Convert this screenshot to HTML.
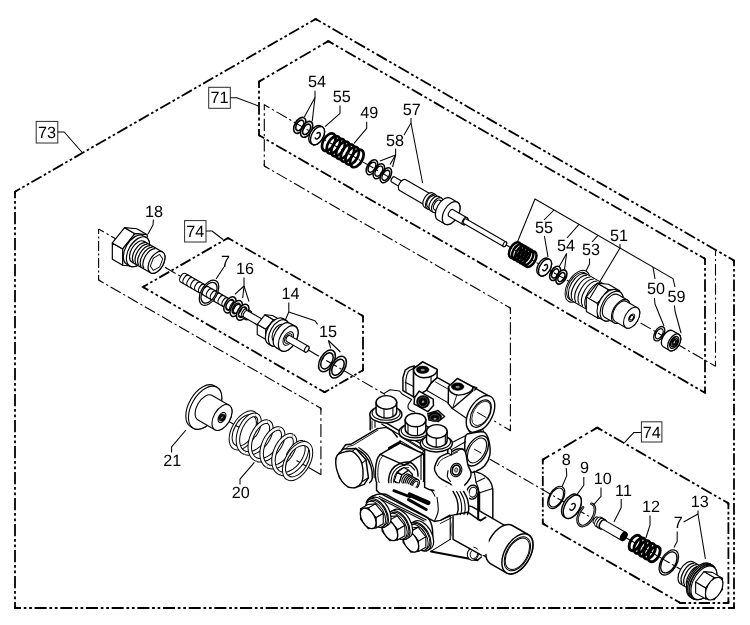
<!DOCTYPE html>
<html><head><meta charset="utf-8"><title>Parts diagram</title>
<style>
html,body{margin:0;padding:0;background:#fff;}
svg{display:block;will-change:transform;}
text{font-family:"Liberation Sans",sans-serif;fill:#000;stroke:none;text-rendering:geometricPrecision;}
</style></head><body>
<svg width="750" height="625" viewBox="0 0 750 625">
<rect width="750" height="625" fill="#fff"/>
<line x1="15" y1="608" x2="15" y2="191.7" stroke="#000" stroke-width="1.8" stroke-dasharray="12.24 2.75 2.75 2.75 2.75 2.75" stroke-dashoffset="6.12"/>
<line x1="15" y1="191.7" x2="315.7" y2="19" stroke="#000" stroke-width="1.8" stroke-dasharray="11.66 2.62 2.62 2.62 2.62 2.62" stroke-dashoffset="5.83"/>
<line x1="315.7" y1="19" x2="734" y2="260.5" stroke="#000" stroke-width="1.8" stroke-dasharray="11.96 2.69 2.69 2.69 2.69 2.69" stroke-dashoffset="5.98"/>
<line x1="734" y1="260.5" x2="734" y2="608" stroke="#000" stroke-width="1.8" stroke-dasharray="11.68 2.63 2.63 2.63 2.63 2.63" stroke-dashoffset="5.84"/>
<line x1="734" y1="608" x2="15" y2="608" stroke="#000" stroke-width="1.8" stroke-dasharray="12.08 2.72 2.72 2.72 2.72 2.72" stroke-dashoffset="6.04"/>
<path d="M17,608 L15,608 L15,606" fill="none" stroke="#000" stroke-width="1.8" stroke-linejoin="miter"/>
<path d="M15,193.7 L15,191.7 L16.73,190.7" fill="none" stroke="#000" stroke-width="1.8" stroke-linejoin="miter"/>
<path d="M313.97,20 L315.7,19 L317.43,20" fill="none" stroke="#000" stroke-width="1.8" stroke-linejoin="miter"/>
<path d="M732.27,259.5 L734,260.5 L734,262.5" fill="none" stroke="#000" stroke-width="1.8" stroke-linejoin="miter"/>
<path d="M734,606 L734,608 L732,608" fill="none" stroke="#000" stroke-width="1.8" stroke-linejoin="miter"/>
<line x1="328.3" y1="41.1" x2="259" y2="81.6" stroke="#000" stroke-width="1.8" stroke-dasharray="12.59 2.83 2.83 2.83 2.83 2.83" stroke-dashoffset="6.3"/>
<line x1="259" y1="81.6" x2="259" y2="135.3" stroke="#000" stroke-width="1.8" stroke-dasharray="12.64 2.84 2.84 2.84 2.84 2.84" stroke-dashoffset="6.32"/>
<line x1="259" y1="135.3" x2="705" y2="392.8" stroke="#000" stroke-width="1.8" stroke-dasharray="12.12 2.73 2.73 2.73 2.73 2.73" stroke-dashoffset="6.06"/>
<line x1="705" y1="392.8" x2="705" y2="258.8" stroke="#000" stroke-width="1.8" stroke-dasharray="12.61 2.84 2.84 2.84 2.84 2.84" stroke-dashoffset="6.31"/>
<line x1="705" y1="258.8" x2="328.3" y2="41.1" stroke="#000" stroke-width="1.8" stroke-dasharray="12.04 2.71 2.71 2.71 2.71 2.71" stroke-dashoffset="6.02"/>
<path d="M330.03,42.1 L328.3,41.1 L326.57,42.11" fill="none" stroke="#000" stroke-width="1.8" stroke-linejoin="miter"/>
<path d="M260.73,80.59 L259,81.6 L259,83.6" fill="none" stroke="#000" stroke-width="1.8" stroke-linejoin="miter"/>
<path d="M259,133.3 L259,135.3 L260.73,136.3" fill="none" stroke="#000" stroke-width="1.8" stroke-linejoin="miter"/>
<path d="M703.27,391.8 L705,392.8 L705,390.8" fill="none" stroke="#000" stroke-width="1.8" stroke-linejoin="miter"/>
<path d="M705,260.8 L705,258.8 L703.27,257.8" fill="none" stroke="#000" stroke-width="1.8" stroke-linejoin="miter"/>
<line x1="228" y1="238" x2="143" y2="287" stroke="#000" stroke-width="1.8" stroke-dasharray="11.54 2.6 2.6 2.6 2.6 2.6" stroke-dashoffset="5.77"/>
<line x1="143" y1="287" x2="324.6" y2="392.3" stroke="#000" stroke-width="1.8" stroke-dasharray="12.35 2.78 2.78 2.78 2.78 2.78" stroke-dashoffset="6.17"/>
<line x1="324.6" y1="392.3" x2="363" y2="370.2" stroke="#000" stroke-width="1.8" stroke-dasharray="10.42 2.35 2.35 2.35 2.35 2.35" stroke-dashoffset="5.21"/>
<line x1="363" y1="370.2" x2="363" y2="316" stroke="#000" stroke-width="1.8" stroke-dasharray="12.75 2.87 2.87 2.87 2.87 2.87" stroke-dashoffset="6.38"/>
<line x1="363" y1="316" x2="228" y2="238" stroke="#000" stroke-width="1.8" stroke-dasharray="12.23 2.75 2.75 2.75 2.75 2.75" stroke-dashoffset="6.11"/>
<path d="M229.73,239 L228,238 L226.27,239" fill="none" stroke="#000" stroke-width="1.8" stroke-linejoin="miter"/>
<path d="M144.73,286 L143,287 L144.73,288" fill="none" stroke="#000" stroke-width="1.8" stroke-linejoin="miter"/>
<path d="M322.87,391.3 L324.6,392.3 L326.33,391.3" fill="none" stroke="#000" stroke-width="1.8" stroke-linejoin="miter"/>
<path d="M361.27,371.2 L363,370.2 L363,368.2" fill="none" stroke="#000" stroke-width="1.8" stroke-linejoin="miter"/>
<path d="M363,318 L363,316 L361.27,315" fill="none" stroke="#000" stroke-width="1.8" stroke-linejoin="miter"/>
<line x1="597.2" y1="427.6" x2="542.8" y2="459.6" stroke="#000" stroke-width="1.8" stroke-dasharray="14.85 3.34 3.34 3.34 3.34 3.34" stroke-dashoffset="7.43"/>
<line x1="542.8" y1="459.6" x2="542.8" y2="523.6" stroke="#000" stroke-width="1.8" stroke-dasharray="10.04 2.26 2.26 2.26 2.26 2.26" stroke-dashoffset="5.02"/>
<line x1="542.8" y1="523.6" x2="680.4" y2="603" stroke="#000" stroke-width="1.8" stroke-dasharray="12.46 2.8 2.8 2.8 2.8 2.8" stroke-dashoffset="6.23"/>
<line x1="680.4" y1="603" x2="728.4" y2="603" stroke="#000" stroke-width="1.8" stroke-dasharray="11.29 2.54 2.54 2.54 2.54 2.54" stroke-dashoffset="5.65"/>
<line x1="728.4" y1="603" x2="728.4" y2="503.3" stroke="#000" stroke-width="1.8" stroke-dasharray="11.73 2.64 2.64 2.64 2.64 2.64" stroke-dashoffset="5.86"/>
<line x1="728.4" y1="503.3" x2="597.2" y2="427.6" stroke="#000" stroke-width="1.8" stroke-dasharray="11.88 2.67 2.67 2.67 2.67 2.67" stroke-dashoffset="5.94"/>
<path d="M598.93,428.6 L597.2,427.6 L595.48,428.61" fill="none" stroke="#000" stroke-width="1.8" stroke-linejoin="miter"/>
<path d="M544.52,458.59 L542.8,459.6 L542.8,461.6" fill="none" stroke="#000" stroke-width="1.8" stroke-linejoin="miter"/>
<path d="M542.8,521.6 L542.8,523.6 L544.53,524.6" fill="none" stroke="#000" stroke-width="1.8" stroke-linejoin="miter"/>
<path d="M678.67,602 L680.4,603 L682.4,603" fill="none" stroke="#000" stroke-width="1.8" stroke-linejoin="miter"/>
<path d="M726.4,603 L728.4,603 L728.4,601" fill="none" stroke="#000" stroke-width="1.8" stroke-linejoin="miter"/>
<path d="M728.4,505.3 L728.4,503.3 L726.67,502.3" fill="none" stroke="#000" stroke-width="1.8" stroke-linejoin="miter"/>
<line x1="490" y1="418.5" x2="510.4" y2="430.6" stroke="#000" stroke-width="1.1" stroke-dasharray="14.02 3.51 2.69 3.51" stroke-dashoffset="7.01"/>
<line x1="510.4" y1="430.6" x2="510.4" y2="308" stroke="#000" stroke-width="1.1" stroke-dasharray="12.08 3.02 2.32 3.02" stroke-dashoffset="6.04"/>
<line x1="510.4" y1="308" x2="264.3" y2="166" stroke="#000" stroke-width="1.1" stroke-dasharray="12 3 2.3 3" stroke-dashoffset="6"/>
<line x1="264.3" y1="166" x2="264.3" y2="104.2" stroke="#000" stroke-width="1.1" stroke-dasharray="12.18 3.04 2.33 3.04" stroke-dashoffset="6.09"/>
<path d="M508.68,429.58 L510.4,430.6 L510.4,428.6" fill="none" stroke="#000" stroke-width="1.1" stroke-linejoin="miter"/>
<path d="M510.4,310 L510.4,308 L508.67,307" fill="none" stroke="#000" stroke-width="1.1" stroke-linejoin="miter"/>
<path d="M266.03,167 L264.3,166 L264.3,164" fill="none" stroke="#000" stroke-width="1.1" stroke-linejoin="miter"/>
<line x1="715.5" y1="366.4" x2="715.5" y2="250.4" stroke="#000" stroke-width="1.1" stroke-dasharray="11.43 2.86 2.19 2.86" stroke-dashoffset="5.71"/>
<line x1="98.6" y1="229" x2="98.6" y2="280" stroke="#000" stroke-width="1.1" stroke-dasharray="10.05 2.51 1.93 2.51" stroke-dashoffset="5.02"/>
<line x1="98.6" y1="280" x2="320.9" y2="408.3" stroke="#000" stroke-width="1.1" stroke-dasharray="11.67 2.92 2.24 2.92" stroke-dashoffset="5.84"/>
<line x1="320.9" y1="408.3" x2="320.9" y2="475" stroke="#000" stroke-width="1.1" stroke-dasharray="13.14 3.29 2.52 3.29" stroke-dashoffset="6.57"/>
<path d="M98.6,278 L98.6,280 L100.33,281" fill="none" stroke="#000" stroke-width="1.1" stroke-linejoin="miter"/>
<path d="M319.17,407.3 L320.9,408.3 L320.9,410.3" fill="none" stroke="#000" stroke-width="1.1" stroke-linejoin="miter"/>
<g transform="translate(264.3,104.8) rotate(30.1)" stroke="#000" stroke-width="1" fill="#fff" stroke-linejoin="round">
<line x1="0" y1="0" x2="521" y2="0" stroke-width="1.1" stroke-dasharray="11.85 2.96 2.27 2.96" stroke-dashoffset="5.92"/>
<path d="M35.98,0 A5.02,8.7 0 1 0 46.02,0 A5.02,8.7 0 1 0 35.98,0 Z M37.71,0 A3.29,5.7 0 1 0 44.29,0 A3.29,5.7 0 1 0 37.71,0 Z" fill-rule="evenodd" fill="#fff" stroke-width="1.6"/>
<path d="M43.88,0 A5.02,8.7 0 1 0 53.92,0 A5.02,8.7 0 1 0 43.88,0 Z M45.61,0 A3.29,5.7 0 1 0 52.19,0 A3.29,5.7 0 1 0 45.61,0 Z" fill-rule="evenodd" fill="#fff" stroke-width="1.6"/>
<path d="M59.5,-10 A5.77,10 0 0 0 59.5,10 L61.5,10 A5.77,10 0 0 0 61.5,-10 Z" stroke-width="1.4" fill="#fff"/>
<ellipse cx="61.5" cy="0" rx="5.77" ry="10" stroke-width="1.4" fill="#fff"/>
<path d="M59.9,-1.8 A2.08,3.6 0 1 1 60.66,3.12" fill="none" stroke="#000" stroke-width="1.5" stroke-linecap="round"/>
<path d="M59.9,-1.8 A2.08,3.6 0 1 1 60.66,3.12" fill="none" stroke="#fff" stroke-width="0" stroke-linecap="round"/>
<ellipse cx="74.5" cy="0" rx="5.54" ry="9.6" stroke-width="2.7" fill="none"/>
<ellipse cx="79.92" cy="0" rx="5.54" ry="9.6" stroke-width="2.7" fill="none"/>
<ellipse cx="85.33" cy="0" rx="5.54" ry="9.6" stroke-width="2.7" fill="none"/>
<ellipse cx="90.75" cy="0" rx="5.54" ry="9.6" stroke-width="2.7" fill="none"/>
<ellipse cx="96.17" cy="0" rx="5.54" ry="9.6" stroke-width="2.7" fill="none"/>
<ellipse cx="101.58" cy="0" rx="5.54" ry="9.6" stroke-width="2.7" fill="none"/>
<ellipse cx="107" cy="0" rx="5.54" ry="9.6" stroke-width="2.7" fill="none"/>
<path d="M119.67,0 A4.73,8.2 0 1 0 129.13,0 A4.73,8.2 0 1 0 119.67,0 Z M121.23,0 A3.17,5.5 0 1 0 127.57,0 A3.17,5.5 0 1 0 121.23,0 Z" fill-rule="evenodd" fill="#fff" stroke-width="1.5"/>
<path d="M127.67,0 A4.73,8.2 0 1 0 137.13,0 A4.73,8.2 0 1 0 127.67,0 Z M129.23,0 A3.17,5.5 0 1 0 135.57,0 A3.17,5.5 0 1 0 129.23,0 Z" fill-rule="evenodd" fill="#fff" stroke-width="1.5"/>
<path d="M135.77,0 A4.73,8.2 0 1 0 145.23,0 A4.73,8.2 0 1 0 135.77,0 Z M137.33,0 A3.17,5.5 0 1 0 143.67,0 A3.17,5.5 0 1 0 137.33,0 Z" fill-rule="evenodd" fill="#fff" stroke-width="1.5"/>
<path d="M149,-3 A1.73,3 0 0 0 149,3 L160,3 A1.73,3 0 0 0 160,-3 Z" stroke-width="1.15" fill="#fff"/>
<ellipse cx="160" cy="0" rx="1.73" ry="3" stroke-width="1.15" fill="#fff"/>
<path d="M160,-6.2 A3.58,6.2 0 0 0 160,6.2 L190,6.2 A3.58,6.2 0 0 0 190,-6.2 Z" stroke-width="1.15" fill="#fff"/>
<ellipse cx="190" cy="0" rx="3.58" ry="6.2" stroke-width="1.15" fill="#fff"/>
<path d="M190,-8.2 A4.73,8.2 0 0 0 190,8.2 L193,8.2 A4.73,8.2 0 0 0 193,-8.2 Z" stroke-width="1.15" fill="#fff"/>
<ellipse cx="193" cy="0" rx="4.73" ry="8.2" stroke-width="1.15" fill="#fff"/>
<path d="M193,-6.5 A3.75,6.5 0 0 0 193,6.5 L197,6.5 A3.75,6.5 0 0 0 197,-6.5 Z" stroke-width="1.15" fill="#fff"/>
<ellipse cx="197" cy="0" rx="3.75" ry="6.5" stroke-width="1.15" fill="#fff"/>
<path d="M197,-8.2 A4.73,8.2 0 0 0 197,8.2 L200,8.2 A4.73,8.2 0 0 0 200,-8.2 Z" stroke-width="1.15" fill="#fff"/>
<ellipse cx="200" cy="0" rx="4.73" ry="8.2" stroke-width="1.15" fill="#fff"/>
<path d="M200,-5.5 A3.17,5.5 0 0 0 200,5.5 L208,5.5 A3.17,5.5 0 0 0 208,-5.5 Z" stroke-width="1.15" fill="#fff"/>
<ellipse cx="208" cy="0" rx="3.17" ry="5.5" stroke-width="1.15" fill="#fff"/>
<path d="M208,-12.6 A7.27,12.6 0 0 0 208,12.6 L216,12.6 A7.27,12.6 0 0 0 216,-12.6 Z" stroke-width="1.2" fill="#fff"/>
<ellipse cx="216" cy="0" rx="7.27" ry="12.6" stroke-width="1.2" fill="#fff"/>
<path d="M216,-4 A2.31,4 0 0 0 216,4 L232,4 A2.31,4 0 0 0 232,-4 Z" stroke-width="1.15" fill="#fff"/>
<ellipse cx="232" cy="0" rx="2.31" ry="4" stroke-width="1.15" fill="#fff"/>
<path d="M232,-2.6 A1.5,2.6 0 0 0 232,2.6 L278,2.6 A1.5,2.6 0 0 0 278,-2.6 Z" stroke-width="1.1" fill="#fff"/>
<ellipse cx="278" cy="0" rx="1.5" ry="2.6" stroke-width="1.1" fill="#fff"/>
<ellipse cx="289.8" cy="0" rx="4.96" ry="8.6" stroke-width="2.5" fill="none"/>
<ellipse cx="293.36" cy="0" rx="4.96" ry="8.6" stroke-width="2.5" fill="none"/>
<ellipse cx="296.92" cy="0" rx="4.96" ry="8.6" stroke-width="2.5" fill="none"/>
<ellipse cx="300.48" cy="0" rx="4.96" ry="8.6" stroke-width="2.5" fill="none"/>
<ellipse cx="304.04" cy="0" rx="4.96" ry="8.6" stroke-width="2.5" fill="none"/>
<ellipse cx="307.6" cy="0" rx="4.96" ry="8.6" stroke-width="2.5" fill="none"/>
<path d="M322.5,-9.3 A5.37,9.3 0 0 0 322.5,9.3 L324.5,9.3 A5.37,9.3 0 0 0 324.5,-9.3 Z" stroke-width="1.4" fill="#fff"/>
<ellipse cx="324.5" cy="0" rx="5.37" ry="9.3" stroke-width="1.4" fill="#fff"/>
<path d="M323,-1.7 A1.96,3.4 0 1 1 323.72,2.94" fill="none" stroke="#000" stroke-width="1.5" stroke-linecap="round"/>
<path d="M323,-1.7 A1.96,3.4 0 1 1 323.72,2.94" fill="none" stroke="#fff" stroke-width="0" stroke-linecap="round"/>
<path d="M331.7,0 A4.5,7.8 0 1 0 340.7,0 A4.5,7.8 0 1 0 331.7,0 Z M333.31,0 A2.88,5 0 1 0 339.08,0 A2.88,5 0 1 0 333.31,0 Z" fill-rule="evenodd" fill="#fff" stroke-width="1.6"/>
<path d="M338.9,0 A4.5,7.8 0 1 0 347.9,0 A4.5,7.8 0 1 0 338.9,0 Z M340.51,0 A2.88,5 0 1 0 346.28,0 A2.88,5 0 1 0 340.51,0 Z" fill-rule="evenodd" fill="#fff" stroke-width="1.6"/>
<path d="M351.9,0 A10.1,17.5 0 1 0 372.1,0 A10.1,17.5 0 1 0 351.9,0 Z M353.17,0 A8.83,15.3 0 1 0 370.83,0 A8.83,15.3 0 1 0 353.17,0 Z" fill-rule="evenodd" fill="#fff" stroke-width="1.0"/>
<path d="M364,-15.3 A8.83,15.3 0 0 0 364,15.3 L386,15.3 A8.83,15.3 0 0 0 386,-15.3 Z" stroke-width="1.1" fill="#fff"/>
<ellipse cx="386" cy="0" rx="8.83" ry="15.3" stroke-width="1.1" fill="#fff"/>
<path d="M364.69,-14.54 A8.83,15.3 0 0 0 364.69,14.54" fill="none" stroke-width="1.1"/>
<path d="M368.59,-14.54 A8.83,15.3 0 0 0 368.59,14.54" fill="none" stroke-width="1.1"/>
<path d="M372.49,-14.54 A8.83,15.3 0 0 0 372.49,14.54" fill="none" stroke-width="1.1"/>
<path d="M376.39,-14.54 A8.83,15.3 0 0 0 376.39,14.54" fill="none" stroke-width="1.1"/>
<path d="M380.29,-14.54 A8.83,15.3 0 0 0 380.29,14.54" fill="none" stroke-width="1.1"/>
<polygon points="382.31,17.39 374.97,4.66 387.97,4.66 395.31,17.39" stroke-width="1.1"/>
<polygon points="374.97,4.66 377.66,-12.73 390.66,-12.73 387.97,4.66" stroke-width="1.1"/>
<polygon points="377.66,-12.73 387.69,-17.39 400.69,-17.39 390.66,-12.73" stroke-width="1.1"/>
<polygon points="405.34,12.73 395.31,17.39 387.97,4.66 390.66,-12.73 400.69,-17.39 408.03,-4.66" stroke-width="1.1"/>
<path d="M398,-16.4 A9.46,16.4 0 0 0 398,16.4 L401.5,16.4 A9.46,16.4 0 0 0 401.5,-16.4 Z" stroke-width="1.1" fill="#fff"/>
<ellipse cx="401.5" cy="0" rx="9.46" ry="16.4" stroke-width="1.1" fill="#fff"/>
<path d="M401.5,-13.2 A7.62,13.2 0 0 0 401.5,13.2 L412,13.2 A7.62,13.2 0 0 0 412,-13.2 Z" stroke-width="1.1" fill="#fff"/>
<ellipse cx="412" cy="0" rx="7.62" ry="13.2" stroke-width="1.1" fill="#fff"/>
<path d="M412,-11.5 A6.64,11.5 0 0 0 412,11.5 L424.6,11.5 A6.64,11.5 0 0 0 424.6,-11.5 Z" stroke-width="1.1" fill="#fff"/>
<ellipse cx="424.6" cy="0" rx="6.64" ry="11.5" stroke-width="1.1" fill="#fff"/>
<path d="M422.18,0 A2.42,4.2 0 1 0 427.02,0 A2.42,4.2 0 1 0 422.18,0 Z M423.1,0 A1.5,2.6 0 1 0 426.1,0 A1.5,2.6 0 1 0 423.1,0 Z" fill-rule="evenodd" fill="#fff" stroke-width="1.0"/>
<path d="M451.94,0 A4.56,7.9 0 1 0 461.06,0 A4.56,7.9 0 1 0 451.94,0 Z M453.33,0 A3.17,5.5 0 1 0 459.67,0 A3.17,5.5 0 1 0 453.33,0 Z" fill-rule="evenodd" fill="#fff" stroke-width="1.3"/>
<path d="M466.5,-9.3 A5.37,9.3 0 0 0 466.5,9.3 L473.8,9.3 A5.37,9.3 0 0 0 473.8,-9.3 Z" stroke-width="1.3" fill="#fff"/>
<ellipse cx="473.8" cy="0" rx="5.37" ry="9.3" stroke-width="1.3" fill="#fff"/>
<path d="M469.99,0 A3.81,6.6 0 1 0 477.61,0 A3.81,6.6 0 1 0 469.99,0 Z M471.03,0 A2.77,4.8 0 1 0 476.57,0 A2.77,4.8 0 1 0 471.03,0 Z" fill-rule="evenodd" fill="#fff" stroke-width="1.2"/>
<path d="M471.95,0 A1.85,3.2 0 1 0 475.65,0 A1.85,3.2 0 1 0 471.95,0 Z M472.7,0 A1.1,1.9 0 1 0 474.9,0 A1.1,1.9 0 1 0 472.7,0 Z" fill-rule="evenodd" fill="#fff" stroke-width="1.2"/>
</g>
<g transform="translate(98.6,229) rotate(30)" stroke="#000" stroke-width="1" fill="#fff" stroke-linejoin="round">
<line x1="0" y1="0" x2="331" y2="0" stroke-width="1.1" stroke-dasharray="12.23 3.06 2.34 3.06" stroke-dashoffset="6.11"/>
<polygon points="27.01,19.32 18.85,5.18 30.85,5.18 39.01,19.32" stroke-width="1.2"/>
<polygon points="18.85,5.18 21.84,-14.14 33.84,-14.14 30.85,5.18" stroke-width="1.2"/>
<polygon points="21.84,-14.14 32.99,-19.32 44.99,-19.32 33.84,-14.14" stroke-width="1.2"/>
<polygon points="50.16,14.14 39.01,19.32 30.85,5.18 33.84,-14.14 44.99,-19.32 53.15,-5.18" stroke-width="1.2"/>
<path d="M42,-16.4 A9.46,16.4 0 0 0 42,16.4 L45.5,16.4 A9.46,16.4 0 0 0 45.5,-16.4 Z" stroke-width="1.2" fill="#fff"/>
<ellipse cx="45.5" cy="0" rx="9.46" ry="16.4" stroke-width="1.2" fill="#fff"/>
<path d="M45.5,-12 A6.92,12 0 0 0 45.5,12 L66.9,12 A6.92,12 0 0 0 66.9,-12 Z" stroke-width="1.2" fill="#fff"/>
<ellipse cx="66.9" cy="0" rx="6.92" ry="12" stroke-width="1.2" fill="#fff"/>
<path d="M46.84,-11.4 A6.92,12 0 0 0 46.84,11.4" fill="none" stroke-width="1.2"/>
<path d="M49.84,-11.4 A6.92,12 0 0 0 49.84,11.4" fill="none" stroke-width="1.2"/>
<path d="M52.84,-11.4 A6.92,12 0 0 0 52.84,11.4" fill="none" stroke-width="1.2"/>
<path d="M55.84,-11.4 A6.92,12 0 0 0 55.84,11.4" fill="none" stroke-width="1.2"/>
<path d="M58.84,-11.4 A6.92,12 0 0 0 58.84,11.4" fill="none" stroke-width="1.2"/>
<polygon points="71.8,2.28 68.21,8.5 63.31,6.22 62,-2.28 65.59,-8.5 70.49,-6.22" stroke-width="0.9"/>
<path d="M97.5,-4.8 A2.77,4.8 0 0 0 97.5,4.8 L172.5,4.8 A2.77,4.8 0 0 0 172.5,-4.8 Z" stroke-width="1.1" fill="#fff"/>
<ellipse cx="172.5" cy="0" rx="2.77" ry="4.8" stroke-width="1.1" fill="#fff"/>
<path d="M101.25,-4.8 A2.77,4.8 0 0 0 101.25,4.8" fill="none" stroke-width="1.1"/>
<path d="M105.75,-4.8 A2.77,4.8 0 0 0 105.75,4.8" fill="none" stroke-width="1.1"/>
<path d="M110.25,-4.8 A2.77,4.8 0 0 0 110.25,4.8" fill="none" stroke-width="1.1"/>
<path d="M114.75,-4.8 A2.77,4.8 0 0 0 114.75,4.8" fill="none" stroke-width="1.1"/>
<path d="M119.25,-4.8 A2.77,4.8 0 0 0 119.25,4.8" fill="none" stroke-width="1.1"/>
<path d="M123.75,-4.8 A2.77,4.8 0 0 0 123.75,4.8" fill="none" stroke-width="1.1"/>
<path d="M128.25,-4.8 A2.77,4.8 0 0 0 128.25,4.8" fill="none" stroke-width="1.1"/>
<path d="M132.75,-4.8 A2.77,4.8 0 0 0 132.75,4.8" fill="none" stroke-width="1.1"/>
<path d="M137.25,-4.8 A2.77,4.8 0 0 0 137.25,4.8" fill="none" stroke-width="1.1"/>
<path d="M141.75,-4.8 A2.77,4.8 0 0 0 141.75,4.8" fill="none" stroke-width="1.1"/>
<path d="M146.25,-4.8 A2.77,4.8 0 0 0 146.25,4.8" fill="none" stroke-width="1.1"/>
<path d="M150.75,-4.8 A2.77,4.8 0 0 0 150.75,4.8" fill="none" stroke-width="1.1"/>
<path d="M155.25,-4.8 A2.77,4.8 0 0 0 155.25,4.8" fill="none" stroke-width="1.1"/>
<path d="M159.75,-4.8 A2.77,4.8 0 0 0 159.75,4.8" fill="none" stroke-width="1.1"/>
<path d="M164.25,-4.8 A2.77,4.8 0 0 0 164.25,4.8" fill="none" stroke-width="1.1"/>
<path d="M168.75,-4.8 A2.77,4.8 0 0 0 168.75,4.8" fill="none" stroke-width="1.1"/>
<path d="M119.54,0 A7.96,13.8 0 1 0 135.46,0 A7.96,13.8 0 1 0 119.54,0 Z M120.92,0 A6.58,11.4 0 1 0 134.08,0 A6.58,11.4 0 1 0 120.92,0 Z" fill-rule="evenodd" fill="#fff" stroke-width="1.2"/>
<path d="M146.62,0 A5.08,8.8 0 1 0 156.78,0 A5.08,8.8 0 1 0 146.62,0 Z M148.35,0 A3.35,5.8 0 1 0 155.05,0 A3.35,5.8 0 1 0 148.35,0 Z" fill-rule="evenodd" fill="#fff" stroke-width="1.5"/>
<path d="M153.82,0 A5.08,8.8 0 1 0 163.98,0 A5.08,8.8 0 1 0 153.82,0 Z M155.55,0 A3.35,5.8 0 1 0 162.25,0 A3.35,5.8 0 1 0 155.55,0 Z" fill-rule="evenodd" fill="#fff" stroke-width="1.5"/>
<path d="M161.32,0 A5.08,8.8 0 1 0 171.48,0 A5.08,8.8 0 1 0 161.32,0 Z M163.05,0 A3.35,5.8 0 1 0 169.75,0 A3.35,5.8 0 1 0 163.05,0 Z" fill-rule="evenodd" fill="#fff" stroke-width="1.5"/>
<path d="M170,-3.7 A2.13,3.7 0 0 0 170,3.7 L194,3.7 A2.13,3.7 0 0 0 194,-3.7 Z" stroke-width="1.1" fill="#fff"/>
<ellipse cx="194" cy="0" rx="2.13" ry="3.7" stroke-width="1.1" fill="#fff"/>
<polygon points="190.13,12.07 185.03,3.24 195.03,3.24 200.13,12.07" stroke-width="1.1"/>
<polygon points="185.03,3.24 186.9,-8.84 196.9,-8.84 195.03,3.24" stroke-width="1.1"/>
<polygon points="186.9,-8.84 193.87,-12.07 203.87,-12.07 196.9,-8.84" stroke-width="1.1"/>
<polygon points="207.1,8.84 200.13,12.07 195.03,3.24 196.9,-8.84 203.87,-12.07 208.97,-3.24" stroke-width="1.1"/>
<path d="M202,-10 A5.77,10 0 0 0 202,10 L204.5,10 A5.77,10 0 0 0 204.5,-10 Z" stroke-width="1.1" fill="#fff"/>
<ellipse cx="204.5" cy="0" rx="5.77" ry="10" stroke-width="1.1" fill="#fff"/>
<path d="M204.5,-14.6 A8.42,14.6 0 0 0 204.5,14.6 L208,14.6 A8.42,14.6 0 0 0 208,-14.6 Z" stroke-width="1.2" fill="#fff"/>
<ellipse cx="208" cy="0" rx="8.42" ry="14.6" stroke-width="1.2" fill="#fff"/>
<path d="M208,-9.5 A5.48,9.5 0 0 0 208,9.5 L213,9.5 A5.48,9.5 0 0 0 213,-9.5 Z" stroke-width="1.1" fill="#fff"/>
<ellipse cx="213" cy="0" rx="5.48" ry="9.5" stroke-width="1.1" fill="#fff"/>
<path d="M213,-14 A8.08,14 0 0 0 213,14 L219,14 A8.08,14 0 0 0 219,-14 Z" stroke-width="1.2" fill="#fff"/>
<ellipse cx="219" cy="0" rx="8.08" ry="14" stroke-width="1.2" fill="#fff"/>
<path d="M214.67,0 A4.33,7.5 0 1 0 223.33,0 A4.33,7.5 0 1 0 214.67,0 Z M215.94,0 A3.06,5.3 0 1 0 222.06,0 A3.06,5.3 0 1 0 215.94,0 Z" fill-rule="evenodd" fill="#fff" stroke-width="1.0"/>
<path d="M219,-3.3 A1.9,3.3 0 0 0 219,3.3 L240.3,3.3 A1.9,3.3 0 0 0 240.3,-3.3 Z" stroke-width="1.1" fill="#fff"/>
<ellipse cx="240.3" cy="0" rx="1.9" ry="3.3" stroke-width="1.1" fill="#fff"/>
<path d="M256.83,0 A6.87,11.9 0 1 0 270.57,0 A6.87,11.9 0 1 0 256.83,0 Z M258.62,0 A5.08,8.8 0 1 0 268.78,0 A5.08,8.8 0 1 0 258.62,0 Z" fill-rule="evenodd" fill="#fff" stroke-width="1.5"/>
<path d="M269.53,0 A6.87,11.9 0 1 0 283.27,0 A6.87,11.9 0 1 0 269.53,0 Z M271.32,0 A5.08,8.8 0 1 0 281.48,0 A5.08,8.8 0 1 0 271.32,0 Z" fill-rule="evenodd" fill="#fff" stroke-width="1.5"/>
</g>
<g transform="translate(222,417.5) rotate(30)" stroke="#000" stroke-width="1" fill="#fff" stroke-linejoin="round">
<line x1="0" y1="0" x2="22" y2="0" stroke-width="1.0"/>
<line x1="86" y1="0" x2="114" y2="0" stroke-width="1.0"/>
<path d="M-22.5,-23.6 A13.62,23.6 0 0 0 -22.5,23.6 L-19.5,23.6 A13.62,23.6 0 0 0 -19.5,-23.6 Z" stroke-width="1.1" fill="#fff"/>
<ellipse cx="-19.5" cy="0" rx="13.62" ry="23.6" stroke-width="1.1" fill="#fff"/>
<path d="M-19.5,-14.2 A8.19,14.2 0 0 0 -19.5,14.2 L0,14.2 A8.19,14.2 0 0 0 0,-14.2 Z" stroke-width="1.1" fill="#fff"/>
<ellipse cx="0" cy="0" rx="8.19" ry="14.2" stroke-width="1.1" fill="#fff"/>
<path d="M-3.23,0 A3.23,5.6 0 1 0 3.23,0 A3.23,5.6 0 1 0 -3.23,0 Z M-2.08,0 A2.08,3.6 0 1 0 2.08,0 A2.08,3.6 0 1 0 -2.08,0 Z" fill-rule="evenodd" fill="#fff" stroke-width="1.1"/>
<path d="M-1.62,0 A1.62,2.8 0 1 0 1.62,0 A1.62,2.8 0 1 0 -1.62,0 Z M-0.92,0 A0.92,1.6 0 1 0 0.92,0 A0.92,1.6 0 1 0 -0.92,0 Z" fill-rule="evenodd" fill="#fff" stroke-width="0.9"/>
<path d="M13.35,0 A12.35,21.4 0 1 0 38.05,0 A12.35,21.4 0 1 0 13.35,0 Z M15.78,0 A9.92,17.2 0 1 0 35.62,0 A9.92,17.2 0 1 0 15.78,0 Z" fill-rule="evenodd" fill="#fff" stroke-width="1.0"/>
<path d="M36.84,0 L37.03,-2.52 L37.03,-5 L36.84,-7.39 L36.48,-9.65 L35.96,-11.75 L35.29,-13.65 L34.48,-15.31 L33.55,-16.71 L32.53,-17.83 L31.43,-18.64 L30.29,-19.13 L29.12,-19.3 L27.95,-19.13" fill="none" stroke="#000" stroke-width="4.5" stroke-linecap="butt" stroke-linejoin="round"/>
<path d="M36.84,0 L37.03,-2.52 L37.03,-5 L36.84,-7.39 L36.48,-9.65 L35.96,-11.75 L35.29,-13.65 L34.48,-15.31 L33.55,-16.71 L32.53,-17.83 L31.43,-18.64 L30.29,-19.13 L29.12,-19.3 L27.95,-19.13" fill="none" stroke="#fff" stroke-width="2.5" stroke-linecap="butt" stroke-linejoin="round"/>
<path d="M37.71,19.13 L39.42,18.64 L41.08,17.83 L42.68,16.71 L44.17,15.31 L45.55,13.65 L46.8,11.75 L47.89,9.65 L48.82,7.39 L49.58,5 L50.14,2.52 L50.52,0 L50.71,-2.52 L50.72,-5 L50.53,-7.39 L50.17,-9.65 L49.65,-11.75 L48.97,-13.65 L48.16,-15.31 L47.24,-16.71 L46.22,-17.83 L45.12,-18.64 L43.98,-19.13 L42.81,-19.3 L41.64,-19.13" fill="none" stroke="#000" stroke-width="4.5" stroke-linecap="butt" stroke-linejoin="round"/>
<path d="M37.71,19.13 L39.42,18.64 L41.08,17.83 L42.68,16.71 L44.17,15.31 L45.55,13.65 L46.8,11.75 L47.89,9.65 L48.82,7.39 L49.58,5 L50.14,2.52 L50.52,0 L50.71,-2.52 L50.72,-5 L50.53,-7.39 L50.17,-9.65 L49.65,-11.75 L48.97,-13.65 L48.16,-15.31 L47.24,-16.71 L46.22,-17.83 L45.12,-18.64 L43.98,-19.13 L42.81,-19.3 L41.64,-19.13" fill="none" stroke="#fff" stroke-width="2.5" stroke-linecap="butt" stroke-linejoin="round"/>
<path d="M51.39,19.13 L53.11,18.64 L54.77,17.83 L56.36,16.71 L57.86,15.31 L59.24,13.65 L60.49,11.75 L61.58,9.65 L62.51,7.39 L63.26,5 L63.83,2.52 L64.21,0 L64.4,-2.52 L64.4,-5 L64.22,-7.39 L63.86,-9.65 L63.34,-11.75 L62.66,-13.65 L61.85,-15.31 L60.93,-16.71 L59.91,-17.83 L58.81,-18.64 L57.67,-19.13 L56.5,-19.3 L55.33,-19.13" fill="none" stroke="#000" stroke-width="4.5" stroke-linecap="butt" stroke-linejoin="round"/>
<path d="M51.39,19.13 L53.11,18.64 L54.77,17.83 L56.36,16.71 L57.86,15.31 L59.24,13.65 L60.49,11.75 L61.58,9.65 L62.51,7.39 L63.26,5 L63.83,2.52 L64.21,0 L64.4,-2.52 L64.4,-5 L64.22,-7.39 L63.86,-9.65 L63.34,-11.75 L62.66,-13.65 L61.85,-15.31 L60.93,-16.71 L59.91,-17.83 L58.81,-18.64 L57.67,-19.13 L56.5,-19.3 L55.33,-19.13" fill="none" stroke="#fff" stroke-width="2.5" stroke-linecap="butt" stroke-linejoin="round"/>
<path d="M63.34,19.3 L65.08,19.13 L66.8,18.64 L68.46,17.83 L70.05,16.71 L71.55,15.31 L72.93,13.65 L74.18,11.75 L75.27,9.65 L76.2,7.39 L76.95,5 L77.52,2.52 L77.9,0 L78.09,-2.52 L78.09,-5 L77.91,-7.39 L77.55,-9.65 L77.03,-11.75 L76.35,-13.65 L75.54,-15.31 L74.62,-16.71 L73.59,-17.83 L72.5,-18.64 L71.36,-19.13 L70.19,-19.3" fill="none" stroke="#000" stroke-width="4.5" stroke-linecap="butt" stroke-linejoin="round"/>
<path d="M63.34,19.3 L65.08,19.13 L66.8,18.64 L68.46,17.83 L70.05,16.71 L71.55,15.31 L72.93,13.65 L74.18,11.75 L75.27,9.65 L76.2,7.39 L76.95,5 L77.52,2.52 L77.9,0 L78.09,-2.52 L78.09,-5 L77.91,-7.39 L77.55,-9.65 L77.03,-11.75 L76.35,-13.65 L75.54,-15.31 L74.62,-16.71 L73.59,-17.83 L72.5,-18.64 L71.36,-19.13 L70.19,-19.3" fill="none" stroke="#fff" stroke-width="2.5" stroke-linecap="butt" stroke-linejoin="round"/>
<path d="M78.77,19.13 L80.49,18.64 L82.15,17.83 L83.74,16.71 L85.24,15.31 L86.62,13.65 L87.86,11.75 L88.96,9.65 L89.89,7.39 L90.64,5 L91.21,2.52 L91.59,0 L91.78,-2.52 L91.78,-5 L91.6,-7.39 L91.24,-9.65 L90.72,-11.75 L90.04,-13.65 L89.23,-15.31 L88.31,-16.71 L87.28,-17.83 L86.19,-18.64 L85.05,-19.13 L83.88,-19.3 L82.71,-19.13" fill="none" stroke="#000" stroke-width="4.5" stroke-linecap="butt" stroke-linejoin="round"/>
<path d="M78.77,19.13 L80.49,18.64 L82.15,17.83 L83.74,16.71 L85.24,15.31 L86.62,13.65 L87.86,11.75 L88.96,9.65 L89.89,7.39 L90.64,5 L91.21,2.52 L91.59,0 L91.78,-2.52 L91.78,-5 L91.6,-7.39 L91.24,-9.65 L90.72,-11.75 L90.04,-13.65 L89.23,-15.31 L88.31,-16.71 L87.28,-17.83 L86.19,-18.64 L85.05,-19.13 L83.88,-19.3 L82.71,-19.13" fill="none" stroke="#fff" stroke-width="2.5" stroke-linecap="butt" stroke-linejoin="round"/>
<path d="M27.95,-19.13 L26.81,-18.64 L25.72,-17.83 L24.69,-16.71 L23.77,-15.31 L22.96,-13.65 L22.28,-11.75 L21.76,-9.65 L21.4,-7.39 L21.22,-5 L21.22,-2.52 L21.41,-0 L21.79,2.52 L22.36,5 L23.11,7.39 L24.04,9.65 L25.14,11.75 L26.38,13.65 L27.76,15.31 L29.26,16.71 L30.85,17.83 L32.51,18.64 L34.23,19.13 L35.97,19.3 L37.71,19.13" fill="none" stroke="#000" stroke-width="4.5" stroke-linecap="butt" stroke-linejoin="round"/>
<path d="M27.95,-19.13 L26.81,-18.64 L25.72,-17.83 L24.69,-16.71 L23.77,-15.31 L22.96,-13.65 L22.28,-11.75 L21.76,-9.65 L21.4,-7.39 L21.22,-5 L21.22,-2.52 L21.41,-0 L21.79,2.52 L22.36,5 L23.11,7.39 L24.04,9.65 L25.14,11.75 L26.38,13.65 L27.76,15.31 L29.26,16.71 L30.85,17.83 L32.51,18.64 L34.23,19.13 L35.97,19.3 L37.71,19.13" fill="none" stroke="#fff" stroke-width="2.5" stroke-linecap="butt" stroke-linejoin="round"/>
<path d="M41.64,-19.13 L40.5,-18.64 L39.41,-17.83 L38.38,-16.71 L37.46,-15.31 L36.65,-13.65 L35.97,-11.75 L35.45,-9.65 L35.09,-7.39 L34.91,-5 L34.91,-2.52 L35.1,-0 L35.48,2.52 L36.05,5 L36.8,7.39 L37.73,9.65 L38.82,11.75 L40.07,13.65 L41.45,15.31 L42.95,16.71 L44.54,17.83 L46.2,18.64 L47.92,19.13 L49.66,19.3 L51.39,19.13" fill="none" stroke="#000" stroke-width="4.5" stroke-linecap="butt" stroke-linejoin="round"/>
<path d="M41.64,-19.13 L40.5,-18.64 L39.41,-17.83 L38.38,-16.71 L37.46,-15.31 L36.65,-13.65 L35.97,-11.75 L35.45,-9.65 L35.09,-7.39 L34.91,-5 L34.91,-2.52 L35.1,-0 L35.48,2.52 L36.05,5 L36.8,7.39 L37.73,9.65 L38.82,11.75 L40.07,13.65 L41.45,15.31 L42.95,16.71 L44.54,17.83 L46.2,18.64 L47.92,19.13 L49.66,19.3 L51.39,19.13" fill="none" stroke="#fff" stroke-width="2.5" stroke-linecap="butt" stroke-linejoin="round"/>
<path d="M55.33,-19.13 L54.19,-18.64 L53.09,-17.83 L52.07,-16.71 L51.15,-15.31 L50.34,-13.65 L49.66,-11.75 L49.14,-9.65 L48.78,-7.39 L48.6,-5 L48.6,-2.52 L48.79,-0 L49.17,2.52 L49.74,5 L50.49,7.39 L51.42,9.65 L52.51,11.75 L53.76,13.65 L55.14,15.31 L56.64,16.71 L58.23,17.83 L59.89,18.64 L61.61,19.13 L63.34,19.3" fill="none" stroke="#000" stroke-width="4.5" stroke-linecap="butt" stroke-linejoin="round"/>
<path d="M55.33,-19.13 L54.19,-18.64 L53.09,-17.83 L52.07,-16.71 L51.15,-15.31 L50.34,-13.65 L49.66,-11.75 L49.14,-9.65 L48.78,-7.39 L48.6,-5 L48.6,-2.52 L48.79,-0 L49.17,2.52 L49.74,5 L50.49,7.39 L51.42,9.65 L52.51,11.75 L53.76,13.65 L55.14,15.31 L56.64,16.71 L58.23,17.83 L59.89,18.64 L61.61,19.13 L63.34,19.3" fill="none" stroke="#fff" stroke-width="2.5" stroke-linecap="butt" stroke-linejoin="round"/>
<path d="M70.19,-19.3 L69.02,-19.13 L67.88,-18.64 L66.78,-17.83 L65.76,-16.71 L64.84,-15.31 L64.03,-13.65 L63.35,-11.75 L62.83,-9.65 L62.47,-7.39 L62.28,-5 L62.29,-2.52 L62.48,-0 L62.86,2.52 L63.42,5 L64.18,7.39 L65.11,9.65 L66.2,11.75 L67.45,13.65 L68.83,15.31 L70.32,16.71 L71.92,17.83 L73.58,18.64 L75.29,19.13 L77.03,19.3 L78.77,19.13" fill="none" stroke="#000" stroke-width="4.5" stroke-linecap="butt" stroke-linejoin="round"/>
<path d="M70.19,-19.3 L69.02,-19.13 L67.88,-18.64 L66.78,-17.83 L65.76,-16.71 L64.84,-15.31 L64.03,-13.65 L63.35,-11.75 L62.83,-9.65 L62.47,-7.39 L62.28,-5 L62.29,-2.52 L62.48,-0 L62.86,2.52 L63.42,5 L64.18,7.39 L65.11,9.65 L66.2,11.75 L67.45,13.65 L68.83,15.31 L70.32,16.71 L71.92,17.83 L73.58,18.64 L75.29,19.13 L77.03,19.3 L78.77,19.13" fill="none" stroke="#fff" stroke-width="2.5" stroke-linecap="butt" stroke-linejoin="round"/>
<path d="M82.71,-19.13 L81.57,-18.64 L80.47,-17.83 L79.45,-16.71 L78.52,-15.31 L77.71,-13.65 L77.04,-11.75 L76.52,-9.65 L76.16,-7.39 L75.97,-5 L75.97,-2.52 L76.16,-0" fill="none" stroke="#000" stroke-width="4.5" stroke-linecap="butt" stroke-linejoin="round"/>
<path d="M82.71,-19.13 L81.57,-18.64 L80.47,-17.83 L79.45,-16.71 L78.52,-15.31 L77.71,-13.65 L77.04,-11.75 L76.52,-9.65 L76.16,-7.39 L75.97,-5 L75.97,-2.52 L76.16,-0" fill="none" stroke="#fff" stroke-width="2.5" stroke-linecap="butt" stroke-linejoin="round"/>
<path d="M74.95,0 A12.35,21.4 0 1 0 99.65,0 A12.35,21.4 0 1 0 74.95,0 Z M77.38,0 A9.92,17.2 0 1 0 97.22,0 A9.92,17.2 0 1 0 77.38,0 Z" fill-rule="evenodd" fill="#fff" stroke-width="1.0"/>
</g>
<g transform="translate(477.5,452) rotate(30)" stroke="#000" stroke-width="1" fill="#fff" stroke-linejoin="round">
<line x1="0" y1="0" x2="275" y2="0" stroke-width="1.1" stroke-dasharray="11.61 2.9 2.23 2.9" stroke-dashoffset="5.81"/>
<path d="M83.86,0 A7.04,12.2 0 1 0 97.94,0 A7.04,12.2 0 1 0 83.86,0 Z M84.9,0 A6,10.4 0 1 0 96.9,0 A6,10.4 0 1 0 84.9,0 Z" fill-rule="evenodd" fill="#fff" stroke-width="1.1"/>
<path d="M107.5,-12.8 A7.39,12.8 0 0 0 107.5,12.8 L109.5,12.8 A7.39,12.8 0 0 0 109.5,-12.8 Z" stroke-width="1.4" fill="#fff"/>
<ellipse cx="109.5" cy="0" rx="7.39" ry="12.8" stroke-width="1.4" fill="#fff"/>
<path d="M107.8,-1.9 A2.19,3.8 0 1 1 108.6,3.29" fill="none" stroke="#000" stroke-width="1.4" stroke-linecap="round"/>
<path d="M107.8,-1.9 A2.19,3.8 0 1 1 108.6,3.29" fill="none" stroke="#fff" stroke-width="0" stroke-linecap="round"/>
<path d="M124.61,-12.18 A7.1,12.3 0 1 1 119.07,-4.81" fill="none" stroke="#000" stroke-width="2.6" stroke-linecap="round"/>
<path d="M124.61,-12.18 A7.1,12.3 0 1 1 119.07,-4.81" fill="none" stroke="#fff" stroke-width="0.5" stroke-linecap="round"/>
<path d="M136.5,-3.6 A2.08,3.6 0 0 0 136.5,3.6 L140,3.6 A2.08,3.6 0 0 0 140,-3.6 Z" stroke-width="1.0" fill="#fff"/>
<ellipse cx="140" cy="0" rx="2.08" ry="3.6" stroke-width="1.0" fill="#fff"/>
<path d="M139.5,-5.2 A3,5.2 0 0 0 139.5,5.2 L142,5.2 A3,5.2 0 0 0 142,-5.2 Z" stroke-width="1.0" fill="#fff"/>
<ellipse cx="142" cy="0" rx="3" ry="5.2" stroke-width="1.0" fill="#fff"/>
<path d="M142,-5.2 A3,5.2 0 0 0 142,5.2 L144.5,5.2 A3,5.2 0 0 0 144.5,-5.2 Z" stroke-width="1.0" fill="#fff"/>
<ellipse cx="144.5" cy="0" rx="3" ry="5.2" stroke-width="1.0" fill="#fff"/>
<path d="M144.5,-4.5 A2.6,4.5 0 0 0 144.5,4.5 L168.8,4.5 A2.6,4.5 0 0 0 168.8,-4.5 Z" stroke-width="1.1" fill="#fff"/>
<ellipse cx="168.8" cy="0" rx="2.6" ry="4.5" stroke-width="1.1" fill="#fff"/>
<ellipse cx="168.8" cy="0" rx="2.6" ry="4.5" stroke-width="1" fill="#000"/>
<ellipse cx="182" cy="0" rx="4.9" ry="8.5" stroke-width="2.9" fill="none"/>
<ellipse cx="187.5" cy="0" rx="4.9" ry="8.5" stroke-width="2.9" fill="none"/>
<ellipse cx="193" cy="0" rx="4.9" ry="8.5" stroke-width="2.9" fill="none"/>
<ellipse cx="198.5" cy="0" rx="4.9" ry="8.5" stroke-width="2.9" fill="none"/>
<ellipse cx="204" cy="0" rx="4.9" ry="8.5" stroke-width="2.9" fill="none"/>
<path d="M212.94,0 A7.96,13.8 0 1 0 228.86,0 A7.96,13.8 0 1 0 212.94,0 Z M214.26,0 A6.64,11.5 0 1 0 227.54,0 A6.64,11.5 0 1 0 214.26,0 Z" fill-rule="evenodd" fill="#fff" stroke-width="1.25"/>
<path d="M242,-12.8 A7.39,12.8 0 0 0 242,12.8 L258,12.8 A7.39,12.8 0 0 0 258,-12.8 Z" stroke-width="1.2" fill="#fff"/>
<ellipse cx="258" cy="0" rx="7.39" ry="12.8" stroke-width="1.2" fill="#fff"/>
<path d="M243.26,-12.16 A7.39,12.8 0 0 0 243.26,12.16" fill="none" stroke-width="1.2"/>
<path d="M246.38,-12.16 A7.39,12.8 0 0 0 246.38,12.16" fill="none" stroke-width="1.2"/>
<path d="M249.51,-12.16 A7.39,12.8 0 0 0 249.51,12.16" fill="none" stroke-width="1.2"/>
<path d="M252.63,-12.16 A7.39,12.8 0 0 0 252.63,12.16" fill="none" stroke-width="1.2"/>
<path d="M257,-19.3 A11.14,19.3 0 0 0 257,19.3 L258.5,19.3 A11.14,19.3 0 0 0 258.5,-19.3 Z" stroke-width="1.1" fill="#fff"/>
<ellipse cx="258.5" cy="0" rx="11.14" ry="19.3" stroke-width="1.1" fill="#fff"/>
<path d="M258.5,-19.3 A11.14,19.3 0 0 0 258.5,19.3 L260,19.3 A11.14,19.3 0 0 0 260,-19.3 Z" stroke-width="1.1" fill="#fff"/>
<ellipse cx="260" cy="0" rx="11.14" ry="19.3" stroke-width="1.1" fill="#fff"/>
<path d="M260,-18.4 A10.62,18.4 0 0 0 260,18.4 L261.5,18.4 A10.62,18.4 0 0 0 261.5,-18.4 Z" stroke-width="1.1" fill="#fff"/>
<ellipse cx="261.5" cy="0" rx="10.62" ry="18.4" stroke-width="1.1" fill="#fff"/>
<polygon points="259.47,13.14 253.92,3.52 265.72,3.52 271.27,13.14" stroke-width="1.1"/>
<polygon points="253.92,3.52 255.95,-9.62 267.75,-9.62 265.72,3.52" stroke-width="1.1"/>
<polygon points="255.95,-9.62 263.53,-13.14 275.33,-13.14 267.75,-9.62" stroke-width="1.1"/>
<polygon points="278.85,9.62 271.27,13.14 265.72,3.52 267.75,-9.62 275.33,-13.14 280.88,-3.52" stroke-width="1.1"/>
<ellipse cx="273.3" cy="0" rx="7.15" ry="12.4" stroke-width="1.2" fill="#fff"/>
</g>
<rect x="36.2" y="121.4" width="21.6" height="21.6" fill="#fff" stroke="#2a2a2a" stroke-width="1"/>
<text x="47" y="137.8" font-size="16.2" text-anchor="middle">73</text>
<path d="M57.8,132 L64.2,132 L82.2,152.5" fill="none" stroke="#000" stroke-width="1.05" stroke-linejoin="round"/>
<rect x="208.7" y="87.3" width="21.6" height="21" fill="#fff" stroke="#2a2a2a" stroke-width="1"/>
<text x="219.5" y="103.4" font-size="16.2" text-anchor="middle">71</text>
<path d="M230.3,97.8 L236.7,97.8 L258.5,106" fill="none" stroke="#000" stroke-width="1.05" stroke-linejoin="round"/>
<rect x="184.6" y="220.6" width="21.4" height="21.4" fill="#fff" stroke="#2a2a2a" stroke-width="1"/>
<text x="195.3" y="236.9" font-size="16.2" text-anchor="middle">74</text>
<path d="M206,231 L212,231 L223,239.5" fill="none" stroke="#000" stroke-width="1.05" stroke-linejoin="round"/>
<rect x="641.4" y="421.8" width="20.5" height="20.2" fill="#fff" stroke="#2a2a2a" stroke-width="1"/>
<text x="651.65" y="437.5" font-size="16.2" text-anchor="middle">74</text>
<path d="M641.4,432.4 L634,432.4 L624.4,442.6" fill="none" stroke="#000" stroke-width="1.05" stroke-linejoin="round"/>
<text x="316.9" y="87" font-size="16.2" text-anchor="middle">54</text>
<path d="M315,90.7 L315,97.4 L304.3,117" fill="none" stroke="#000" stroke-width="1.05" stroke-linejoin="round"/>
<path d="M315,97.4 L312.2,121.5" fill="none" stroke="#000" stroke-width="1.05" stroke-linejoin="round"/>
<text x="341.7" y="101.6" font-size="16.2" text-anchor="middle">55</text>
<path d="M340,105.5 L340,113.3 L325,126.7" fill="none" stroke="#000" stroke-width="1.05" stroke-linejoin="round"/>
<text x="369.3" y="117.9" font-size="16.2" text-anchor="middle">49</text>
<path d="M366.7,121.7 L366.7,128.3 L354,143.3" fill="none" stroke="#000" stroke-width="1.05" stroke-linejoin="round"/>
<text x="411.7" y="115.1" font-size="16.2" text-anchor="middle">57</text>
<path d="M411,118 L411,123 L404,135" fill="none" stroke="#000" stroke-width="1.05" stroke-linejoin="round"/>
<path d="M411,123 L422.6,183" fill="none" stroke="#000" stroke-width="1.05" stroke-linejoin="round"/>
<text x="395" y="145.6" font-size="16.2" text-anchor="middle">58</text>
<path d="M395.6,148.5 L395.6,155 L380,161" fill="none" stroke="#000" stroke-width="1.05" stroke-linejoin="round"/>
<path d="M395.6,155 L390,164.4" fill="none" stroke="#000" stroke-width="1.05" stroke-linejoin="round"/>
<path d="M395.6,155 L392.6,167" fill="none" stroke="#000" stroke-width="1.05" stroke-linejoin="round"/>
<path d="M517,243 L535,199 L673,278.6 L675,287" fill="none" stroke="#000" stroke-width="1.05" stroke-linejoin="round"/>
<path d="M554,210 L544,220" fill="none" stroke="#000" stroke-width="1.05" stroke-linejoin="round"/>
<path d="M579,224.4 L567,238" fill="none" stroke="#000" stroke-width="1.05" stroke-linejoin="round"/>
<path d="M598,235.4 L592,242" fill="none" stroke="#000" stroke-width="1.05" stroke-linejoin="round"/>
<path d="M653,267 L655,279" fill="none" stroke="#000" stroke-width="1.05" stroke-linejoin="round"/>
<text x="544" y="232.6" font-size="16.2" text-anchor="middle">55</text>
<path d="M544.4,236 L548,257" fill="none" stroke="#000" stroke-width="1.05" stroke-linejoin="round"/>
<text x="566" y="250.6" font-size="16.2" text-anchor="middle">54</text>
<path d="M566.6,253.5 L559,267" fill="none" stroke="#000" stroke-width="1.05" stroke-linejoin="round"/>
<path d="M566.6,253.5 L564.6,269" fill="none" stroke="#000" stroke-width="1.05" stroke-linejoin="round"/>
<text x="591" y="255.1" font-size="16.2" text-anchor="middle">53</text>
<path d="M589.5,258.5 L589.5,264 L586,271" fill="none" stroke="#000" stroke-width="1.05" stroke-linejoin="round"/>
<text x="619" y="240.6" font-size="16.2" text-anchor="middle">51</text>
<path d="M620,244 L620,248 L590,298" fill="none" stroke="#000" stroke-width="1.05" stroke-linejoin="round"/>
<text x="656" y="294" font-size="16.2" text-anchor="middle">50</text>
<path d="M654.4,298 L655,304 L664,326" fill="none" stroke="#000" stroke-width="1.05" stroke-linejoin="round"/>
<text x="676.4" y="302.2" font-size="16.2" text-anchor="middle">59</text>
<path d="M674.4,305.5 L675,311 L681,333" fill="none" stroke="#000" stroke-width="1.05" stroke-linejoin="round"/>
<text x="154" y="216.6" font-size="16.2" text-anchor="middle">18</text>
<path d="M153.4,219.5 L153,225 L148,234" fill="none" stroke="#000" stroke-width="1.05" stroke-linejoin="round"/>
<text x="225.5" y="266.6" font-size="16.2" text-anchor="middle">7</text>
<path d="M224,267 L216,279" fill="none" stroke="#000" stroke-width="1.05" stroke-linejoin="round"/>
<text x="245" y="273.6" font-size="16.2" text-anchor="middle">16</text>
<path d="M244,277.5 L244,286 L234.8,294.4" fill="none" stroke="#000" stroke-width="1.05" stroke-linejoin="round"/>
<path d="M244,286 L242.7,298" fill="none" stroke="#000" stroke-width="1.05" stroke-linejoin="round"/>
<path d="M244,286 L249,301.6" fill="none" stroke="#000" stroke-width="1.05" stroke-linejoin="round"/>
<text x="290.5" y="298.6" font-size="16.2" text-anchor="middle">14</text>
<path d="M288.8,302.5 L288.8,312 L285,320.8" fill="none" stroke="#000" stroke-width="1.05" stroke-linejoin="round"/>
<path d="M288.8,312 L315,320.8 L317.6,324.4" fill="none" stroke="#000" stroke-width="1.05" stroke-linejoin="round"/>
<text x="328" y="337.2" font-size="16.2" text-anchor="middle">15</text>
<path d="M328.4,340.5 L330.8,348.4" fill="none" stroke="#000" stroke-width="1.05" stroke-linejoin="round"/>
<path d="M328.4,340.5 L340.4,352" fill="none" stroke="#000" stroke-width="1.05" stroke-linejoin="round"/>
<text x="172.3" y="466.3" font-size="16.2" text-anchor="middle">21</text>
<path d="M186,430 L171.6,446.8 L171.6,452.5" fill="none" stroke="#000" stroke-width="1.05" stroke-linejoin="round"/>
<text x="240.7" y="498" font-size="16.2" text-anchor="middle">20</text>
<path d="M254.4,462.4 L240,479.2 L240,484.5" fill="none" stroke="#000" stroke-width="1.05" stroke-linejoin="round"/>
<text x="566.2" y="464.6" font-size="16.2" text-anchor="middle">8</text>
<path d="M566.2,468 L566.8,475.6 L562,486.8" fill="none" stroke="#000" stroke-width="1.05" stroke-linejoin="round"/>
<text x="584.4" y="473.2" font-size="16.2" text-anchor="middle">9</text>
<path d="M583.8,477 L583.8,485.2 L577.4,493.9" fill="none" stroke="#000" stroke-width="1.05" stroke-linejoin="round"/>
<text x="602.7" y="483.8" font-size="16.2" text-anchor="middle">10</text>
<path d="M601,487.5 L601,496.4 L594,504.4" fill="none" stroke="#000" stroke-width="1.05" stroke-linejoin="round"/>
<text x="623.5" y="495.6" font-size="16.2" text-anchor="middle">11</text>
<path d="M621.2,499 L621.2,507.6 L613.9,522" fill="none" stroke="#000" stroke-width="1.05" stroke-linejoin="round"/>
<text x="651" y="511.6" font-size="16.2" text-anchor="middle">12</text>
<path d="M650,515.5 L650,525.2 L645.9,538" fill="none" stroke="#000" stroke-width="1.05" stroke-linejoin="round"/>
<text x="678.2" y="527.6" font-size="16.2" text-anchor="middle">7</text>
<path d="M677.2,531.5 L677.2,541.2 L674,547.6" fill="none" stroke="#000" stroke-width="1.05" stroke-linejoin="round"/>
<text x="699.7" y="506.8" font-size="16.2" text-anchor="middle">13</text>
<path d="M698,510.5 L698,514 L705.4,558.8" fill="none" stroke="#000" stroke-width="1.05" stroke-linejoin="round"/>
<path d="M698,514 L683.6,522" fill="none" stroke="#000" stroke-width="1.05" stroke-linejoin="round"/>
<path d="M403.37,394.81 L403.37,375.2 L409.81,367.36 L423.25,362.04 L437.81,369.6 L457.42,377.44 L474.22,385 L492.42,395.37 L495.78,410.21 L493.82,424.21 L488.22,434.01 L489.62,445.21 L489.06,460.61 L483.46,469.01 L491.02,479.2 L494.38,489.01 L494.38,512.25 L509.22,524.01 L526.02,533.25 L532.18,543.61 L530.22,559.01 L523.22,570.22 L513.42,573.86 L503.62,569.38 L482.62,559.01 L475.62,561.81 L433.61,553.41 L414.01,555.37 L400.01,547.81 L380.41,538.01 L360.8,524.01 L359.4,510.01 L369.2,496.01 L374.81,484.81 L363.6,488.17 L346.8,486.21 L337,472.2 L335.6,456.8 L342.6,444.2 L346.8,448.01 L369.2,434.01 L369.2,415.81 L374.81,400.41 L386.01,394.81 L403.37,394.81 Z" fill="#fff" stroke="#fff" stroke-width="0.1" stroke-linejoin="round" stroke-linecap="round"/>
<path d="M414.32,365.94 L409.76,367.16 L405.2,370.2 L402.92,377.8 L402.92,390.71 L412.8,396.34 L413.56,396.34 L413.56,369.44 Z" fill="#fff" stroke="#000" stroke-width="1.45" stroke-linejoin="round" stroke-linecap="round"/>
<path d="M412.8,368.68 C412.04,369.18 409.38,369.94 408.24,371.72 C407.1,373.49 406.34,375.87 405.96,379.32 C405.58,382.76 405.96,390.21 405.96,392.39" fill="none" stroke="#000" stroke-width="1.1" stroke-linejoin="round" stroke-linecap="round"/>
<path d="M405.2,382.36 L413.56,386.46" fill="none" stroke="#000" stroke-width="1.1" stroke-linejoin="round" stroke-linecap="round"/>
<path d="M426.47,390.26 L431.03,383.12 L437.11,377.8 L450.03,384.64 L472.83,386.91 L488.78,395.73 L494.86,405.15 L487.26,433.27 L479.67,434.79 L467.51,423.39 L466.75,418.83 L444.71,400.59 Z" fill="#fff" stroke="#fff" stroke-width="0.1" stroke-linejoin="round" stroke-linecap="round"/>
<path d="M437.87,377.8 L450.03,384.64" fill="none" stroke="#000" stroke-width="1.45" stroke-linejoin="round" stroke-linecap="round"/>
<path d="M435.59,382.05 L448.51,389.35" fill="none" stroke="#000" stroke-width="0.9" stroke-linejoin="round" stroke-linecap="round"/>
<path d="M426.47,390.26 L448.21,402.87" fill="none" stroke="#000" stroke-width="1.1" stroke-linejoin="round" stroke-linecap="round"/>
<path d="M472.83,386.91 L489.54,396.34" fill="none" stroke="#000" stroke-width="1.45" stroke-linejoin="round" stroke-linecap="round"/>
<path d="M452.31,408.5 L466.75,418.53" fill="none" stroke="#000" stroke-width="1.1" stroke-linejoin="round" stroke-linecap="round"/>
<path d="M413.56,370.2 L413.56,397.55 L426.47,390.26 L431.03,383.12 L437.11,377.8 L437.11,369.74 L422.67,361.84 L413.56,368.68 Z" fill="#fff" stroke="#000" stroke-width="1.45" stroke-linejoin="round" stroke-linecap="round"/>
<path d="M413.56,368.98 L422.67,361.84 L437.11,369.44 C437.42,374 431.03,377.8 423.74,377.8 C418.12,377.8 413.56,374 413.56,368.98 Z " fill="#fff" stroke="#000" stroke-width="1.45" stroke-linejoin="round" stroke-linecap="round"/>
<path d="M431.03,376.28 L431.03,383.12" fill="none" stroke="#000" stroke-width="1.1" stroke-linejoin="round" stroke-linecap="round"/>
<path d="M437.11,377.8 C436.1,378.68 432.81,381.04 431.03,383.12 C429.26,385.19 427.23,389.07 426.47,390.26" fill="none" stroke="#000" stroke-width="1.1" stroke-linejoin="round" stroke-linecap="round"/>
<ellipse cx="422.67" cy="369.74" rx="6.38" ry="3.8" transform="rotate(0 422.67 369.74)" fill="#000" stroke="#000" stroke-width="0.5"/>
<ellipse cx="422.67" cy="370.05" rx="2.13" ry="1.22" transform="rotate(0 422.67 370.05)" fill="#888" stroke="#000" stroke-width="0"/>
<path d="M448.51,386.91 L448.21,403.63 L452.31,408.5 L465.99,396.79 L472.83,390.71 L472.83,386.91 L457.63,378.56 Z" fill="#fff" stroke="#000" stroke-width="1.45" stroke-linejoin="round" stroke-linecap="round"/>
<path d="M448.51,386.46 L457.63,378.56 L472.83,386.91 C473.13,391.47 465.99,395.12 458.69,395.12 C453.07,395.12 448.51,391.47 448.51,386.46 Z " fill="#fff" stroke="#000" stroke-width="1.45" stroke-linejoin="round" stroke-linecap="round"/>
<path d="M456.87,394.82 L453.07,406.67" fill="none" stroke="#000" stroke-width="0.9" stroke-linejoin="round" stroke-linecap="round"/>
<ellipse cx="457.63" cy="386.61" rx="6.38" ry="3.8" transform="rotate(0 457.63 386.61)" fill="#000" stroke="#000" stroke-width="0.5"/>
<ellipse cx="457.63" cy="386.91" rx="2.13" ry="1.22" transform="rotate(0 457.63 386.91)" fill="#888" stroke="#000" stroke-width="0"/>
<path d="M472.83,386.16 L476.93,387.83 L474.5,390.26" fill="none" stroke="#000" stroke-width="1.1" stroke-linejoin="round" stroke-linecap="round"/>
<ellipse cx="480.5" cy="414" rx="11.66" ry="20.2" transform="rotate(30 480.5 414)" fill="#fff" stroke="#000" stroke-width="1.4"/>
<ellipse cx="480.7" cy="413.6" rx="8.65" ry="15" transform="rotate(30 480.7 413.6)" fill="#fff" stroke="#000" stroke-width="1.2"/>
<ellipse cx="481.2" cy="413.4" rx="7.67" ry="13.3" transform="rotate(30 481.2 413.4)" fill="none" stroke="#000" stroke-width="0.8"/>
<path d="M477.5,412.5 L486,417.4" fill="none" stroke="#000" stroke-width="1.0" stroke-linejoin="round" stroke-linecap="round"/>
<path d="M467.58,428.07 L470.18,433.27 L482.66,429.11 L485.79,437.43" fill="none" stroke="#000" stroke-width="1.1" stroke-linejoin="round" stroke-linecap="round"/>
<path d="M342,449.61 L345.61,444.81 L351.61,443.97 L377.42,428.6 L386.42,427.4 L392.42,431 L397.23,437 L402.03,443.01 L381.02,453.81 L374.42,459.81 L372.62,468.22 L373.22,481.42 L369.62,482.62 L364.21,484.42 L355.81,487.42 Z" fill="#fff" stroke="#fff" stroke-width="0.1" stroke-linejoin="round" stroke-linecap="round"/>
<path d="M342,449.61 L345.61,444.81 L351.61,443.97 L377.42,428.6 L386.42,427.4 L392.42,431 L397.23,437" fill="none" stroke="#000" stroke-width="1.45" stroke-linejoin="round" stroke-linecap="round"/>
<path d="M344.41,450.45 L348.01,446.37 L352.81,445.41 L378.02,430.04" fill="none" stroke="#000" stroke-width="0.9" stroke-linejoin="round" stroke-linecap="round"/>
<path d="M355.81,448.41 C357.31,449.51 362.31,452.11 364.81,455.01 C367.31,457.91 369.58,461.91 370.82,465.82 C372.06,469.72 372.46,475.62 372.26,478.42 C372.06,481.22 370.06,481.92 369.62,482.62" fill="none" stroke="#000" stroke-width="1.45" stroke-linejoin="round" stroke-linecap="round"/>
<path d="M358.81,447.57 C360.37,448.91 365.77,452.27 368.18,455.61 C370.58,458.95 372.22,463.92 373.22,467.62 C374.22,471.32 374.02,476.12 374.18,477.82" fill="none" stroke="#000" stroke-width="1.1" stroke-linejoin="round" stroke-linecap="round"/>
<path d="M339,453.21 L343.21,449.01 L355.81,448.41 L366.01,459.81 L368.42,477.82 L364.21,484.42 L355.81,487.42 L348.01,486.82 L339.6,477.82 L336,462.21 L336,458.61 Z" fill="#fff" stroke="#000" stroke-width="1.45" stroke-linejoin="round" stroke-linecap="round"/>
<path d="M355.81,448.41 L352.21,451.41" fill="none" stroke="#000" stroke-width="1.1" stroke-linejoin="round" stroke-linecap="round"/>
<path d="M366.01,459.81 L361.81,463.42" fill="none" stroke="#000" stroke-width="1.1" stroke-linejoin="round" stroke-linecap="round"/>
<path d="M368.42,477.82 L362.41,481.42" fill="none" stroke="#000" stroke-width="1.1" stroke-linejoin="round" stroke-linecap="round"/>
<path d="M337.44,455.01 C339.08,453.05 343.15,452.25 345.61,451.65 C348.07,451.05 350.01,450.45 352.21,451.41 C354.41,452.37 357.15,455.21 358.81,457.41 C360.47,459.61 361.47,461.61 362.17,464.62 C362.87,467.62 363.13,472.42 363.01,475.42 C362.89,478.42 362.65,480.62 361.45,482.62 C360.25,484.62 358.05,486.72 355.81,487.42 C353.57,488.13 350.31,487.83 348.01,486.82 C345.71,485.82 343.71,483.72 342,481.42 C340.3,479.12 338.84,476.02 337.8,473.02 C336.76,470.02 335.82,466.42 335.76,463.42 C335.7,460.41 335.8,456.97 337.44,455.01 Z" fill="#fff" stroke="#000" stroke-width="1.4" stroke-linejoin="round" stroke-linecap="round"/>
<path d="M384.01,393.4 L390.01,389.8 L399.62,391 L402.02,394 L411.62,399.41" fill="none" stroke="#000" stroke-width="1.1" stroke-linejoin="round" stroke-linecap="round"/>
<path d="M370.2,413.21 L370.2,430.02" fill="none" stroke="#000" stroke-width="1.45" stroke-linejoin="round" stroke-linecap="round"/>
<path d="M375.01,421.01 L375.01,427.26" fill="none" stroke="#000" stroke-width="1.1" stroke-linejoin="round" stroke-linecap="round"/>
<path d="M372,421.01 L372,428.82" fill="none" stroke="#000" stroke-width="0.9" stroke-linejoin="round" stroke-linecap="round"/>
<path d="M384.01,421.61 L424.83,446.22" fill="none" stroke="#000" stroke-width="1.45" stroke-linejoin="round" stroke-linecap="round"/>
<path d="M381.61,424.02 L422.42,448.63" fill="none" stroke="#000" stroke-width="1.1" stroke-linejoin="round" stroke-linecap="round"/>
<path d="M411.62,399.41 C411.02,400.41 408.42,403.71 408.02,405.41 C407.62,407.11 408.12,408.51 409.22,409.61 C410.32,410.71 413.72,411.61 414.62,412.01" fill="none" stroke="#000" stroke-width="1.1" stroke-linejoin="round" stroke-linecap="round"/>
<path d="M419.06,391.24 L433.23,399.17 L433.47,405.41 L427.83,411.65 L414.02,403.97 L414.62,397.61 Z" fill="#fff" stroke="#000" stroke-width="1.45" stroke-linejoin="round" stroke-linecap="round"/>
<ellipse cx="423.03" cy="401.81" rx="6.6" ry="6.3" transform="rotate(0 423.03 401.81)" fill="#000" stroke="#000" stroke-width="0.5"/>
<circle cx="423.03" cy="401.81" r="4.6" fill="none" stroke="#666" stroke-width="0.7"/>
<circle cx="423.03" cy="401.81" r="1.3" fill="#999"/>
<path d="M427.83,413.81 L438.03,410.45 L444.63,416.45 L438.03,421.61 L429.03,420.05 Z" fill="#fff" stroke="#000" stroke-width="1.45" stroke-linejoin="round" stroke-linecap="round"/>
<ellipse cx="435.03" cy="416.81" rx="6.6" ry="4.8" transform="rotate(0 435.03 416.81)" fill="#000" stroke="#000" stroke-width="0.5"/>
<ellipse cx="435.03" cy="417.81" rx="4.6" ry="3.2" fill="none" stroke="#666" stroke-width="0.7"/>
<ellipse cx="435.03" cy="418.81" rx="1.5" ry="1" fill="#999"/>
<ellipse cx="385.9" cy="414.4" rx="16" ry="8.6" transform="rotate(0 385.9 414.4)" fill="#fff" stroke="#000" stroke-width="1.45"/>
<ellipse cx="386.1" cy="413" rx="14" ry="7.3" transform="rotate(0 386.1 413)" fill="#fff" stroke="#000" stroke-width="1.1"/>
<path d="M376.1,402.4 L376.1,411.4 A10.3,6.8 0 0 0 396.7,411.4 L396.7,402.4 Z" fill="#fff" stroke="#000" stroke-width="1.45"/>
<ellipse cx="386.4" cy="402.4" rx="10.3" ry="6.8" transform="rotate(0 386.4 402.4)" fill="#fff" stroke="#000" stroke-width="1.45"/>
<path d="M384,409.01 L384,418.01" fill="none" stroke="#000" stroke-width="1.1" stroke-linejoin="round" stroke-linecap="round"/>
<path d="M392.9,407.67 L392.9,416.67" fill="none" stroke="#000" stroke-width="1.1" stroke-linejoin="round" stroke-linecap="round"/>
<ellipse cx="415" cy="432" rx="16" ry="8.6" transform="rotate(0 415 432)" fill="#fff" stroke="#000" stroke-width="1.45"/>
<ellipse cx="415.2" cy="430.6" rx="14" ry="7.3" transform="rotate(0 415.2 430.6)" fill="#fff" stroke="#000" stroke-width="1.1"/>
<path d="M405.2,420 L405.2,429 A10.3,6.8 0 0 0 425.8,429 L425.8,420 Z" fill="#fff" stroke="#000" stroke-width="1.45"/>
<ellipse cx="415.5" cy="420" rx="10.3" ry="6.8" transform="rotate(0 415.5 420)" fill="#fff" stroke="#000" stroke-width="1.45"/>
<path d="M408,424.66 L408,433.66" fill="none" stroke="#000" stroke-width="1.1" stroke-linejoin="round" stroke-linecap="round"/>
<path d="M417.5,426.67 L417.5,435.67" fill="none" stroke="#000" stroke-width="1.1" stroke-linejoin="round" stroke-linecap="round"/>
<path d="M465.43,437 C466.33,432.4 467.73,434.2 470.83,433.4 C473.93,432.6 481.03,431 484.03,432.2 C487.03,433.4 487.88,436.8 488.84,440.61 C489.8,444.41 490.5,450.81 489.8,455.01 C489.1,459.21 486.79,463.18 484.63,465.82 C482.47,468.46 479.13,469.86 476.83,470.86 C474.53,471.86 472.73,473.46 470.83,471.82 C468.93,470.18 466.33,466.82 465.43,461.01 C464.53,455.21 464.53,441.61 465.43,437 Z" fill="#fff" stroke="#000" stroke-width="1.45" stroke-linejoin="round" stroke-linecap="round"/>
<ellipse cx="476.8" cy="450.8" rx="9.58" ry="16.6" transform="rotate(30 476.8 450.8)" fill="#fff" stroke="#000" stroke-width="1.4"/>
<ellipse cx="477" cy="450.5" rx="7.85" ry="13.6" transform="rotate(30 477 450.5)" fill="#fff" stroke="#000" stroke-width="1.1"/>
<path d="M474.5,449.3 L481,453" fill="none" stroke="#000" stroke-width="1.0" stroke-linejoin="round" stroke-linecap="round"/>
<path d="M424.61,443.01 L424.61,487.42 L436.01,490.67 L447.06,486.46 L447.42,443.01 Z" fill="#fff" stroke="#fff" stroke-width="0.1" stroke-linejoin="round" stroke-linecap="round"/>
<path d="M424.61,447.81 L424.61,487.42 L430.01,489.83 L436.01,490.67 L442.02,489.23 L447.06,486.46" fill="none" stroke="#000" stroke-width="1.45" stroke-linejoin="round" stroke-linecap="round"/>
<path d="M447.42,446.61 L447.42,461.01" fill="none" stroke="#000" stroke-width="1.1" stroke-linejoin="round" stroke-linecap="round"/>
<path d="M421.61,453.81 L421.61,481.42 L424.61,481.42" fill="none" stroke="#000" stroke-width="1.1" stroke-linejoin="round" stroke-linecap="round"/>
<path d="M434.81,466.42 C435.57,464.12 437.01,459.75 439.62,457.41 C442.22,455.07 447.42,453.77 450.42,452.37 C453.42,450.97 455.22,449.27 457.62,449.01 C460.02,448.75 463.13,448.21 464.83,450.81 C466.53,453.41 466.83,461.11 467.83,464.62 C468.83,468.12 470.43,469.62 470.83,471.82 C471.23,474.02 471.63,475.22 470.23,477.82 C468.83,480.42 464.73,485.42 462.42,487.42 C460.12,489.43 458.42,490.39 456.42,489.83 C454.42,489.27 451.82,485.26 450.42,484.06 C449.02,482.86 449.82,483.66 448.02,482.62 C446.22,481.58 441.78,479.72 439.62,477.82 C437.45,475.92 435.85,473.12 435.05,471.22 C434.25,469.32 434.05,468.72 434.81,466.42 Z" fill="#fff" stroke="#000" stroke-width="1.45" stroke-linejoin="round" stroke-linecap="round"/>
<path d="M437.45,465.82 C438.12,464.82 439.16,461.61 441.42,459.81 C443.68,458.01 448.32,456.31 451.02,455.01 C453.72,453.71 456.52,452.51 457.62,452.01" fill="none" stroke="#000" stroke-width="0.9" stroke-linejoin="round" stroke-linecap="round"/>
<path d="M448.02,470.62 C447.92,471.62 447.02,474.82 447.42,476.62 C447.82,478.42 449.92,480.62 450.42,481.42" fill="none" stroke="#000" stroke-width="1.1" stroke-linejoin="round" stroke-linecap="round"/>
<ellipse cx="456.18" cy="470.02" rx="5.6" ry="6.8" transform="rotate(12 456.18 470.02)" fill="#fff" stroke="#000" stroke-width="1.1"/>
<ellipse cx="456.18" cy="470.02" rx="3.9" ry="5" transform="rotate(12 456.18 470.02)" fill="#fff" stroke="#000" stroke-width="1.7"/>
<ellipse cx="456.18" cy="470.02" rx="1.6" ry="2.2" transform="rotate(12 456.18 470.02)" fill="#aaa" stroke="#000" stroke-width="0.6"/>
<path d="M448.02,447.81 L448.02,453.21 L451.62,455.01 L451.62,449.61 Z" fill="#fff" stroke="#000" stroke-width="1.1" stroke-linejoin="round" stroke-linecap="round"/>
<path d="M400,436.4 L424.01,450.81" fill="none" stroke="#000" stroke-width="1.1" stroke-linejoin="round" stroke-linecap="round"/>
<path d="M400,440.61 L421.61,453.45" fill="none" stroke="#000" stroke-width="1.1" stroke-linejoin="round" stroke-linecap="round"/>
<path d="M400,464.62 L421.61,453.45 L424.01,450.81" fill="none" stroke="#000" stroke-width="1.1" stroke-linejoin="round" stroke-linecap="round"/>
<path d="M400,461.01 L420.41,452.01" fill="none" stroke="#000" stroke-width="0.9" stroke-linejoin="round" stroke-linecap="round"/>
<path d="M451.02,443.01 L465.43,435.8" fill="none" stroke="#000" stroke-width="1.1" stroke-linejoin="round" stroke-linecap="round"/>
<path d="M451.62,449.61 L465.43,441.81" fill="none" stroke="#000" stroke-width="1.1" stroke-linejoin="round" stroke-linecap="round"/>
<path d="M452.82,453.21 L462.42,448.41" fill="none" stroke="#000" stroke-width="0.9" stroke-linejoin="round" stroke-linecap="round"/>
<ellipse cx="436.3" cy="443.4" rx="16" ry="8.6" transform="rotate(0 436.3 443.4)" fill="#fff" stroke="#000" stroke-width="1.45"/>
<ellipse cx="436.5" cy="442" rx="14" ry="7.3" transform="rotate(0 436.5 442)" fill="#fff" stroke="#000" stroke-width="1.1"/>
<path d="M426.5,431.4 L426.5,440.4 A10.3,6.8 0 0 0 447.1,440.4 L447.1,431.4 Z" fill="#fff" stroke="#000" stroke-width="1.45"/>
<ellipse cx="436.8" cy="431.4" rx="10.3" ry="6.8" transform="rotate(0 436.8 431.4)" fill="#fff" stroke="#000" stroke-width="1.45"/>
<path d="M436.2,438.19 L436.2,447.19" fill="none" stroke="#000" stroke-width="1.1" stroke-linejoin="round" stroke-linecap="round"/>
<path d="M445.3,435.24 L445.3,444.24" fill="none" stroke="#000" stroke-width="1.1" stroke-linejoin="round" stroke-linecap="round"/>
<path d="M380.2,454.41 L400.01,443 L423.42,453.81 L423.78,480.82 L409.62,490.42 L394.01,494.02 L379.6,488.02 L376,480.82 L375.4,470.01 L377.2,459.21 Z" fill="#fff" stroke="#fff" stroke-width="0.1" stroke-linejoin="round" stroke-linecap="round"/>
<path d="M380.2,454.41 L400.01,443 L423.42,453.81 L404.21,465.21 Z" fill="none" stroke="#000" stroke-width="1.45" stroke-linejoin="round" stroke-linecap="round"/>
<path d="M389.21,448.16 L400.01,442.04" fill="none" stroke="#000" stroke-width="2.6" stroke-linejoin="round" stroke-linecap="round"/>
<path d="M380.2,454.41 C379.7,455.21 378,456.61 377.2,459.21 C376.4,461.81 375.6,466.41 375.4,470.01 C375.2,473.61 375.3,477.82 376,480.82 C376.7,483.82 379,486.82 379.6,488.02" fill="none" stroke="#000" stroke-width="1.45" stroke-linejoin="round" stroke-linecap="round"/>
<path d="M382.61,456.21 C382.1,457.01 380.38,458.71 379.6,461.01 C378.82,463.31 378.12,466.81 377.92,470.01 C377.72,473.21 377.82,477.52 378.4,480.22 C378.98,482.92 380.9,485.22 381.4,486.22" fill="none" stroke="#000" stroke-width="0.9" stroke-linejoin="round" stroke-linecap="round"/>
<path d="M421.02,455.01 L421.02,479.62" fill="none" stroke="#000" stroke-width="1.1" stroke-linejoin="round" stroke-linecap="round"/>
<path d="M423.78,453.81 L423.78,481.42" fill="none" stroke="#000" stroke-width="1.45" stroke-linejoin="round" stroke-linecap="round"/>
<path d="M404.21,465.21 L409.62,462.81" fill="none" stroke="#000" stroke-width="1.1" stroke-linejoin="round" stroke-linecap="round"/>
<path d="M379.6,488.02 L394.01,494.26" fill="none" stroke="#000" stroke-width="1.45" stroke-linejoin="round" stroke-linecap="round"/>
<path d="M394.01,493.42 C393.31,492.52 390.71,490.32 389.81,488.02 C388.91,485.72 388.31,482.62 388.61,479.62 C388.91,476.61 389.91,472.61 391.61,470.01 C393.31,467.41 395.81,465.31 398.81,464.01 C401.81,462.71 406.61,461.41 409.62,462.21 C412.62,463.01 415.42,466.51 416.82,468.81 C418.22,471.11 417.82,474.81 418.02,476.01" fill="none" stroke="#000" stroke-width="1.45" stroke-linejoin="round" stroke-linecap="round"/>
<path d="M395.81,492.82 C395.21,491.92 392.99,489.52 392.21,487.42 C391.43,485.32 390.87,482.82 391.13,480.22 C391.39,477.62 392.29,474.11 393.77,471.81 C395.25,469.51 397.47,467.55 400.01,466.41 C402.55,465.27 406.57,464.37 409.02,464.97 C411.46,465.57 413.72,469.17 414.66,470.01" fill="none" stroke="#000" stroke-width="1.1" stroke-linejoin="round" stroke-linecap="round"/>
<path d="M397.85,491.62 C397.31,490.82 395.31,488.66 394.61,486.82 C393.91,484.98 393.45,482.78 393.65,480.58 C393.85,478.38 394.59,475.57 395.81,473.61 C397.03,471.65 398.87,469.81 400.97,468.81 C403.07,467.81 407.17,467.81 408.42,467.61" fill="none" stroke="#000" stroke-width="0.9" stroke-linejoin="round" stroke-linecap="round"/>
<g transform="translate(403.61,477.82) rotate(30)" stroke="#000" stroke-width="1" fill="#fff" stroke-linejoin="round">
<polygon points="-1.11,9.02 -6.56,7.35 -1.06,7.35 4.39,9.02" stroke-width="1.2"/>
<polygon points="-6.56,7.35 -8.46,-1.67 -2.96,-1.67 -1.06,7.35" stroke-width="1.2"/>
<polygon points="-8.46,-1.67 -4.89,-9.02 0.61,-9.02 -2.96,-1.67" stroke-width="1.2"/>
<polygon points="7.96,1.67 4.39,9.02 -1.06,7.35 -2.96,-1.67 0.61,-9.02 6.06,-7.35" stroke-width="1.2"/>
<path d="M2.5,-5.6 A3.23,5.6 0 0 0 2.5,5.6 L13.5,5.6 A3.23,5.6 0 0 0 13.5,-5.6 Z" stroke-width="1.2" fill="#fff"/>
<ellipse cx="13.5" cy="0" rx="3.23" ry="5.6" stroke-width="1.2" fill="#fff"/>
<path d="M3.44,-5.32 A3.23,5.6 0 0 0 3.44,5.32" fill="none" stroke-width="1.1"/>
<path d="M5.34,-5.32 A3.23,5.6 0 0 0 5.34,5.32" fill="none" stroke-width="1.1"/>
<path d="M7.24,-5.32 A3.23,5.6 0 0 0 7.24,5.32" fill="none" stroke-width="1.1"/>
<path d="M9.14,-5.32 A3.23,5.6 0 0 0 9.14,5.32" fill="none" stroke-width="1.1"/>
<path d="M11.04,-5.32 A3.23,5.6 0 0 0 11.04,5.32" fill="none" stroke-width="1.1"/>
<ellipse cx="13.5" cy="0" rx="2.08" ry="3.6" stroke-width="0.9" fill="#fff"/>
</g>
<path d="M479,493 L480.6,494.6 L491.8,488.2 L493.4,478.6 L504.6,485 L505.4,521.8 L485.4,517 L480.6,519.4 L479,519.4 Z" fill="#fff" stroke="#fff" stroke-width="0.1" stroke-linejoin="round" stroke-linecap="round"/>
<path d="M474.21,471.4 C484.42,473.81 491.86,479.81 492.82,490.01 L492.82,518.82 L481.42,520.62 L479.02,519.06 L479.02,492.41 L471.21,484.01 Z " fill="#fff" stroke="#fff" stroke-width="0.1" stroke-linejoin="round" stroke-linecap="round"/>
<path d="M474.21,471.4 C484.42,473.81 491.86,479.81 492.82,490.01 L492.82,518.82 " fill="none" stroke="#000" stroke-width="1.45" stroke-linejoin="round" stroke-linecap="round"/>
<path d="M479.02,493.01 L492.82,488.57 " fill="none" stroke="#000" stroke-width="1.1" stroke-linejoin="round" stroke-linecap="round"/>
<path d="M476.01,482.21 L484.66,478.01 " fill="none" stroke="#000" stroke-width="1.1" stroke-linejoin="round" stroke-linecap="round"/>
<path d="M474.21,471.4 L476.01,482.21 C477.82,485.81 479.02,488.81 479.02,493.01 " fill="none" stroke="#000" stroke-width="1.1" stroke-linejoin="round" stroke-linecap="round"/>
<path d="M479.02,492.41 L479.02,519.06" fill="none" stroke="#000" stroke-width="2.4" stroke-linejoin="round" stroke-linecap="round"/>
<path d="M479.02,519.06 L481.42,520.62 L492.82,518.82" fill="none" stroke="#000" stroke-width="1.1" stroke-linejoin="round" stroke-linecap="round"/>
<path d="M482.26,520.02 C483.22,515.82 488.02,514.62 490.42,517.38 " fill="none" stroke="#000" stroke-width="1.1" stroke-linejoin="round" stroke-linecap="round"/>
<ellipse cx="472.41" cy="492.17" rx="5.7" ry="7" transform="rotate(12 472.41 492.17)" fill="#fff" stroke="#000" stroke-width="1.45"/>
<ellipse cx="472.91" cy="492.17" rx="3.7" ry="5" transform="rotate(12 472.91 492.17)" fill="#fff" stroke="#000" stroke-width="1.1"/>
<g transform="translate(517.4,553.8) rotate(30)" stroke="#000" stroke-width="1" fill="#fff" stroke-linejoin="round">
<path d="M-62,-18.2 A10.5,18.2 0 0 0 -62,18.2 L-18,18.2 A10.5,18.2 0 0 0 -18,-18.2 Z" stroke-width="1.45" fill="#fff"/>
<path d="M-18.5,-22 A12.69,22 0 0 0 -18.5,22 L0,22 A12.69,22 0 0 0 0,-22 Z" stroke-width="1.45" fill="#fff"/>
<ellipse cx="0" cy="0" rx="12.69" ry="22" stroke-width="1.45" fill="#fff"/>
<ellipse cx="0" cy="0" rx="10.73" ry="18.6" stroke-width="1.0" fill="#fff"/>
<ellipse cx="0" cy="0" rx="9.92" ry="17.2" stroke-width="0.9" fill="#fff"/>
</g>
<path d="M451.48,515.4 L451.48,539.4 L482.2,555.4 L490.2,552.2 L485.4,517.8 L467.8,512.2 Z" fill="#fff" stroke="#fff" stroke-width="0.1" stroke-linejoin="round" stroke-linecap="round"/>
<path d="M450.2,515.4 L450.2,539.4" fill="none" stroke="#000" stroke-width="1.1" stroke-linejoin="round" stroke-linecap="round"/>
<path d="M450.2,539.4 L431,551.4" fill="none" stroke="#000" stroke-width="1.1" stroke-linejoin="round" stroke-linecap="round"/>
<path d="M431,551.4 L477.4,560.2" fill="none" stroke="#000" stroke-width="2.0" stroke-linejoin="round" stroke-linecap="round"/>
<path d="M477.4,560.2 L481.4,557" fill="none" stroke="#000" stroke-width="1.45" stroke-linejoin="round" stroke-linecap="round"/>
<ellipse cx="472.92" cy="553.8" rx="5.5" ry="6.5" transform="rotate(20 472.92 553.8)" fill="#fff" stroke="#000" stroke-width="1.1"/>
<ellipse cx="473.88" cy="554.12" rx="3.6" ry="4.6" transform="rotate(20 473.88 554.12)" fill="#fff" stroke="#000" stroke-width="0.9"/>
<path d="M453.08,537.8 L453.08,539.72 L481.4,555.4 L483.8,553 L467.8,544.2 Z" fill="#fff" stroke="#fff" stroke-width="0.1" stroke-linejoin="round" stroke-linecap="round"/>
<path d="M453.08,516.2 L453.08,539.4 L481.4,555.08" fill="none" stroke="#000" stroke-width="1.45" stroke-linejoin="round" stroke-linecap="round"/>
<path d="M434.2,488.2 L436.6,504.2 L440.6,517 L451.48,515.4 L467.8,512.2 L469.4,494.6 L463,483.4 Z" fill="#fff" stroke="#fff" stroke-width="0.1" stroke-linejoin="round" stroke-linecap="round"/>
<path d="M431,489.8 C431.53,490.6 433.13,491.93 434.2,494.6 C435.27,497.27 436.6,502.07 437.4,505.8 C438.2,509.53 438.73,515.13 439,517" fill="none" stroke="#000" stroke-width="1.1" stroke-linejoin="round" stroke-linecap="round"/>
<path d="M453.08,491.4 C453.72,492.73 456.07,496.47 456.92,499.4 C457.77,502.33 458.2,506.47 458.2,509 C458.2,511.53 457.13,513.67 456.92,514.6" fill="none" stroke="#000" stroke-width="1.45" stroke-linejoin="round" stroke-linecap="round"/>
<path d="M456.6,491.4 C457.24,492.73 459.59,496.47 460.44,499.4 C461.29,502.33 461.72,506.47 461.72,509 C461.72,511.53 460.65,513.67 460.44,514.6" fill="none" stroke="#000" stroke-width="1.1" stroke-linejoin="round" stroke-linecap="round"/>
<path d="M460.12,491.4 C460.76,492.73 463.11,496.47 463.96,499.4 C464.81,502.33 465.24,506.47 465.24,509 C465.24,511.53 464.17,513.67 463.96,514.6" fill="none" stroke="#000" stroke-width="1.1" stroke-linejoin="round" stroke-linecap="round"/>
<path d="M463.64,491.4 C464.28,492.73 466.63,496.47 467.48,499.4 C468.33,502.33 468.76,506.47 468.76,509 C468.76,511.53 467.69,513.67 467.48,514.6" fill="none" stroke="#000" stroke-width="1.45" stroke-linejoin="round" stroke-linecap="round"/>
<path d="M434.2,522.6 L451.48,515.4 L467.8,512.2 L478.2,519.4" fill="none" stroke="#000" stroke-width="1.45" stroke-linejoin="round" stroke-linecap="round"/>
<path d="M433.4,524.2 L437.4,525 L451.48,517.8" fill="none" stroke="#000" stroke-width="0.9" stroke-linejoin="round" stroke-linecap="round"/>
<path d="M478.2,494.6 L478.2,519.4 L480.6,520.52 L485.4,517.48" fill="none" stroke="#000" stroke-width="2.0" stroke-linejoin="round" stroke-linecap="round"/>
<path d="M376.53,482.93 L376.53,490.41 L366.33,502.65 L370.41,514.9 L428.91,549.59 L437.07,540.75 L440.48,520.34 L450,515.17 L450,504.01 L407.14,483.61 Z" fill="#fff" stroke="#fff" stroke-width="0.1" stroke-linejoin="round" stroke-linecap="round"/>
<path d="M376.53,482.93 L376.53,490.41 L379.25,492.86 L434.35,521.43 L440.48,520.34 L450,515.17" fill="none" stroke="#000" stroke-width="1.45" stroke-linejoin="round" stroke-linecap="round"/>
<path d="M366.33,502.65 C367.69,497.89 375.85,492.45 385.65,494.22 L426.19,516.53 C431.63,519.66 433.67,529.86 432.31,540.75 L429.59,548.91 " fill="none" stroke="#000" stroke-width="1.45" stroke-linejoin="round" stroke-linecap="round"/>
<path d="M379.25,496.53 L426.19,519.93" fill="none" stroke="#000" stroke-width="1.1" stroke-linejoin="round" stroke-linecap="round"/>
<path d="M381.56,499.52 L424.15,521.02" fill="none" stroke="#000" stroke-width="1.1" stroke-linejoin="round" stroke-linecap="round"/>
<path d="M434.35,521.43 C434.99,519.66 437.71,514.85 438.16,510.82 C438.62,506.78 437.26,499.48 437.07,497.21" fill="none" stroke="#000" stroke-width="1.1" stroke-linejoin="round" stroke-linecap="round"/>
<path d="M393.81,490.68 L409.86,496.8" fill="none" stroke="#000" stroke-width="2.8" stroke-linejoin="round" stroke-linecap="round"/>
<path d="M409.86,494.76 L428.23,502.93" fill="none" stroke="#000" stroke-width="4.6" stroke-linejoin="round" stroke-linecap="round"/>
<path d="M408.5,499.66 L426.19,509.46" fill="none" stroke="#000" stroke-width="3.0" stroke-linejoin="round" stroke-linecap="round"/>
<g transform="translate(410.8,541.8) rotate(150)" stroke="#000" stroke-width="1" fill="#fff" stroke-linejoin="round">
<path d="M-13.5,-15.8 A9.12,15.8 0 0 0 -13.5,15.8 L-10.5,15.8 A9.12,15.8 0 0 0 -10.5,-15.8 Z" stroke-width="1.2" fill="#fff"/>
<ellipse cx="-10.5" cy="0" rx="9.12" ry="15.8" stroke-width="1.2" fill="#fff"/>
<path d="M-10.5,-14.2 A8.19,14.2 0 0 0 -10.5,14.2 L-8.5,14.2 A8.19,14.2 0 0 0 -8.5,-14.2 Z" stroke-width="1.0" fill="#fff"/>
<ellipse cx="-8.5" cy="0" rx="8.19" ry="14.2" stroke-width="1.0" fill="#fff"/>
<polygon points="-6.62,12.17 -13.64,8.91 -5.14,8.91 1.88,12.17" stroke-width="1.1"/>
<polygon points="-13.64,8.91 -15.52,-3.26 -7.02,-3.26 -5.14,8.91" stroke-width="1.1"/>
<polygon points="-15.52,-3.26 -10.38,-12.17 -1.88,-12.17 -7.02,-3.26" stroke-width="1.1"/>
<polygon points="7.02,3.26 1.88,12.17 -5.14,8.91 -7.02,-3.26 -1.88,-12.17 5.14,-8.91" stroke-width="1.1"/>
<ellipse cx="0" cy="0" rx="6.46" ry="11.2" stroke-width="1.3" fill="#fff"/>
</g>
<g transform="translate(389.8,530.4) rotate(150)" stroke="#000" stroke-width="1" fill="#fff" stroke-linejoin="round">
<path d="M-13.5,-15.8 A9.12,15.8 0 0 0 -13.5,15.8 L-10.5,15.8 A9.12,15.8 0 0 0 -10.5,-15.8 Z" stroke-width="1.2" fill="#fff"/>
<ellipse cx="-10.5" cy="0" rx="9.12" ry="15.8" stroke-width="1.2" fill="#fff"/>
<path d="M-10.5,-14.2 A8.19,14.2 0 0 0 -10.5,14.2 L-8.5,14.2 A8.19,14.2 0 0 0 -8.5,-14.2 Z" stroke-width="1.0" fill="#fff"/>
<ellipse cx="-8.5" cy="0" rx="8.19" ry="14.2" stroke-width="1.0" fill="#fff"/>
<polygon points="-6.62,12.17 -13.64,8.91 -5.14,8.91 1.88,12.17" stroke-width="1.1"/>
<polygon points="-13.64,8.91 -15.52,-3.26 -7.02,-3.26 -5.14,8.91" stroke-width="1.1"/>
<polygon points="-15.52,-3.26 -10.38,-12.17 -1.88,-12.17 -7.02,-3.26" stroke-width="1.1"/>
<polygon points="7.02,3.26 1.88,12.17 -5.14,8.91 -7.02,-3.26 -1.88,-12.17 5.14,-8.91" stroke-width="1.1"/>
<ellipse cx="0" cy="0" rx="6.46" ry="11.2" stroke-width="1.3" fill="#fff"/>
</g>
<g transform="translate(368.2,518.4) rotate(150)" stroke="#000" stroke-width="1" fill="#fff" stroke-linejoin="round">
<path d="M-13.5,-15.8 A9.12,15.8 0 0 0 -13.5,15.8 L-10.5,15.8 A9.12,15.8 0 0 0 -10.5,-15.8 Z" stroke-width="1.2" fill="#fff"/>
<ellipse cx="-10.5" cy="0" rx="9.12" ry="15.8" stroke-width="1.2" fill="#fff"/>
<path d="M-10.5,-14.2 A8.19,14.2 0 0 0 -10.5,14.2 L-8.5,14.2 A8.19,14.2 0 0 0 -8.5,-14.2 Z" stroke-width="1.0" fill="#fff"/>
<ellipse cx="-8.5" cy="0" rx="8.19" ry="14.2" stroke-width="1.0" fill="#fff"/>
<polygon points="-6.62,12.17 -13.64,8.91 -5.14,8.91 1.88,12.17" stroke-width="1.1"/>
<polygon points="-13.64,8.91 -15.52,-3.26 -7.02,-3.26 -5.14,8.91" stroke-width="1.1"/>
<polygon points="-15.52,-3.26 -10.38,-12.17 -1.88,-12.17 -7.02,-3.26" stroke-width="1.1"/>
<polygon points="7.02,3.26 1.88,12.17 -5.14,8.91 -7.02,-3.26 -1.88,-12.17 5.14,-8.91" stroke-width="1.1"/>
<ellipse cx="0" cy="0" rx="6.46" ry="11.2" stroke-width="1.3" fill="#fff"/>
</g>
</svg>
</body></html>
